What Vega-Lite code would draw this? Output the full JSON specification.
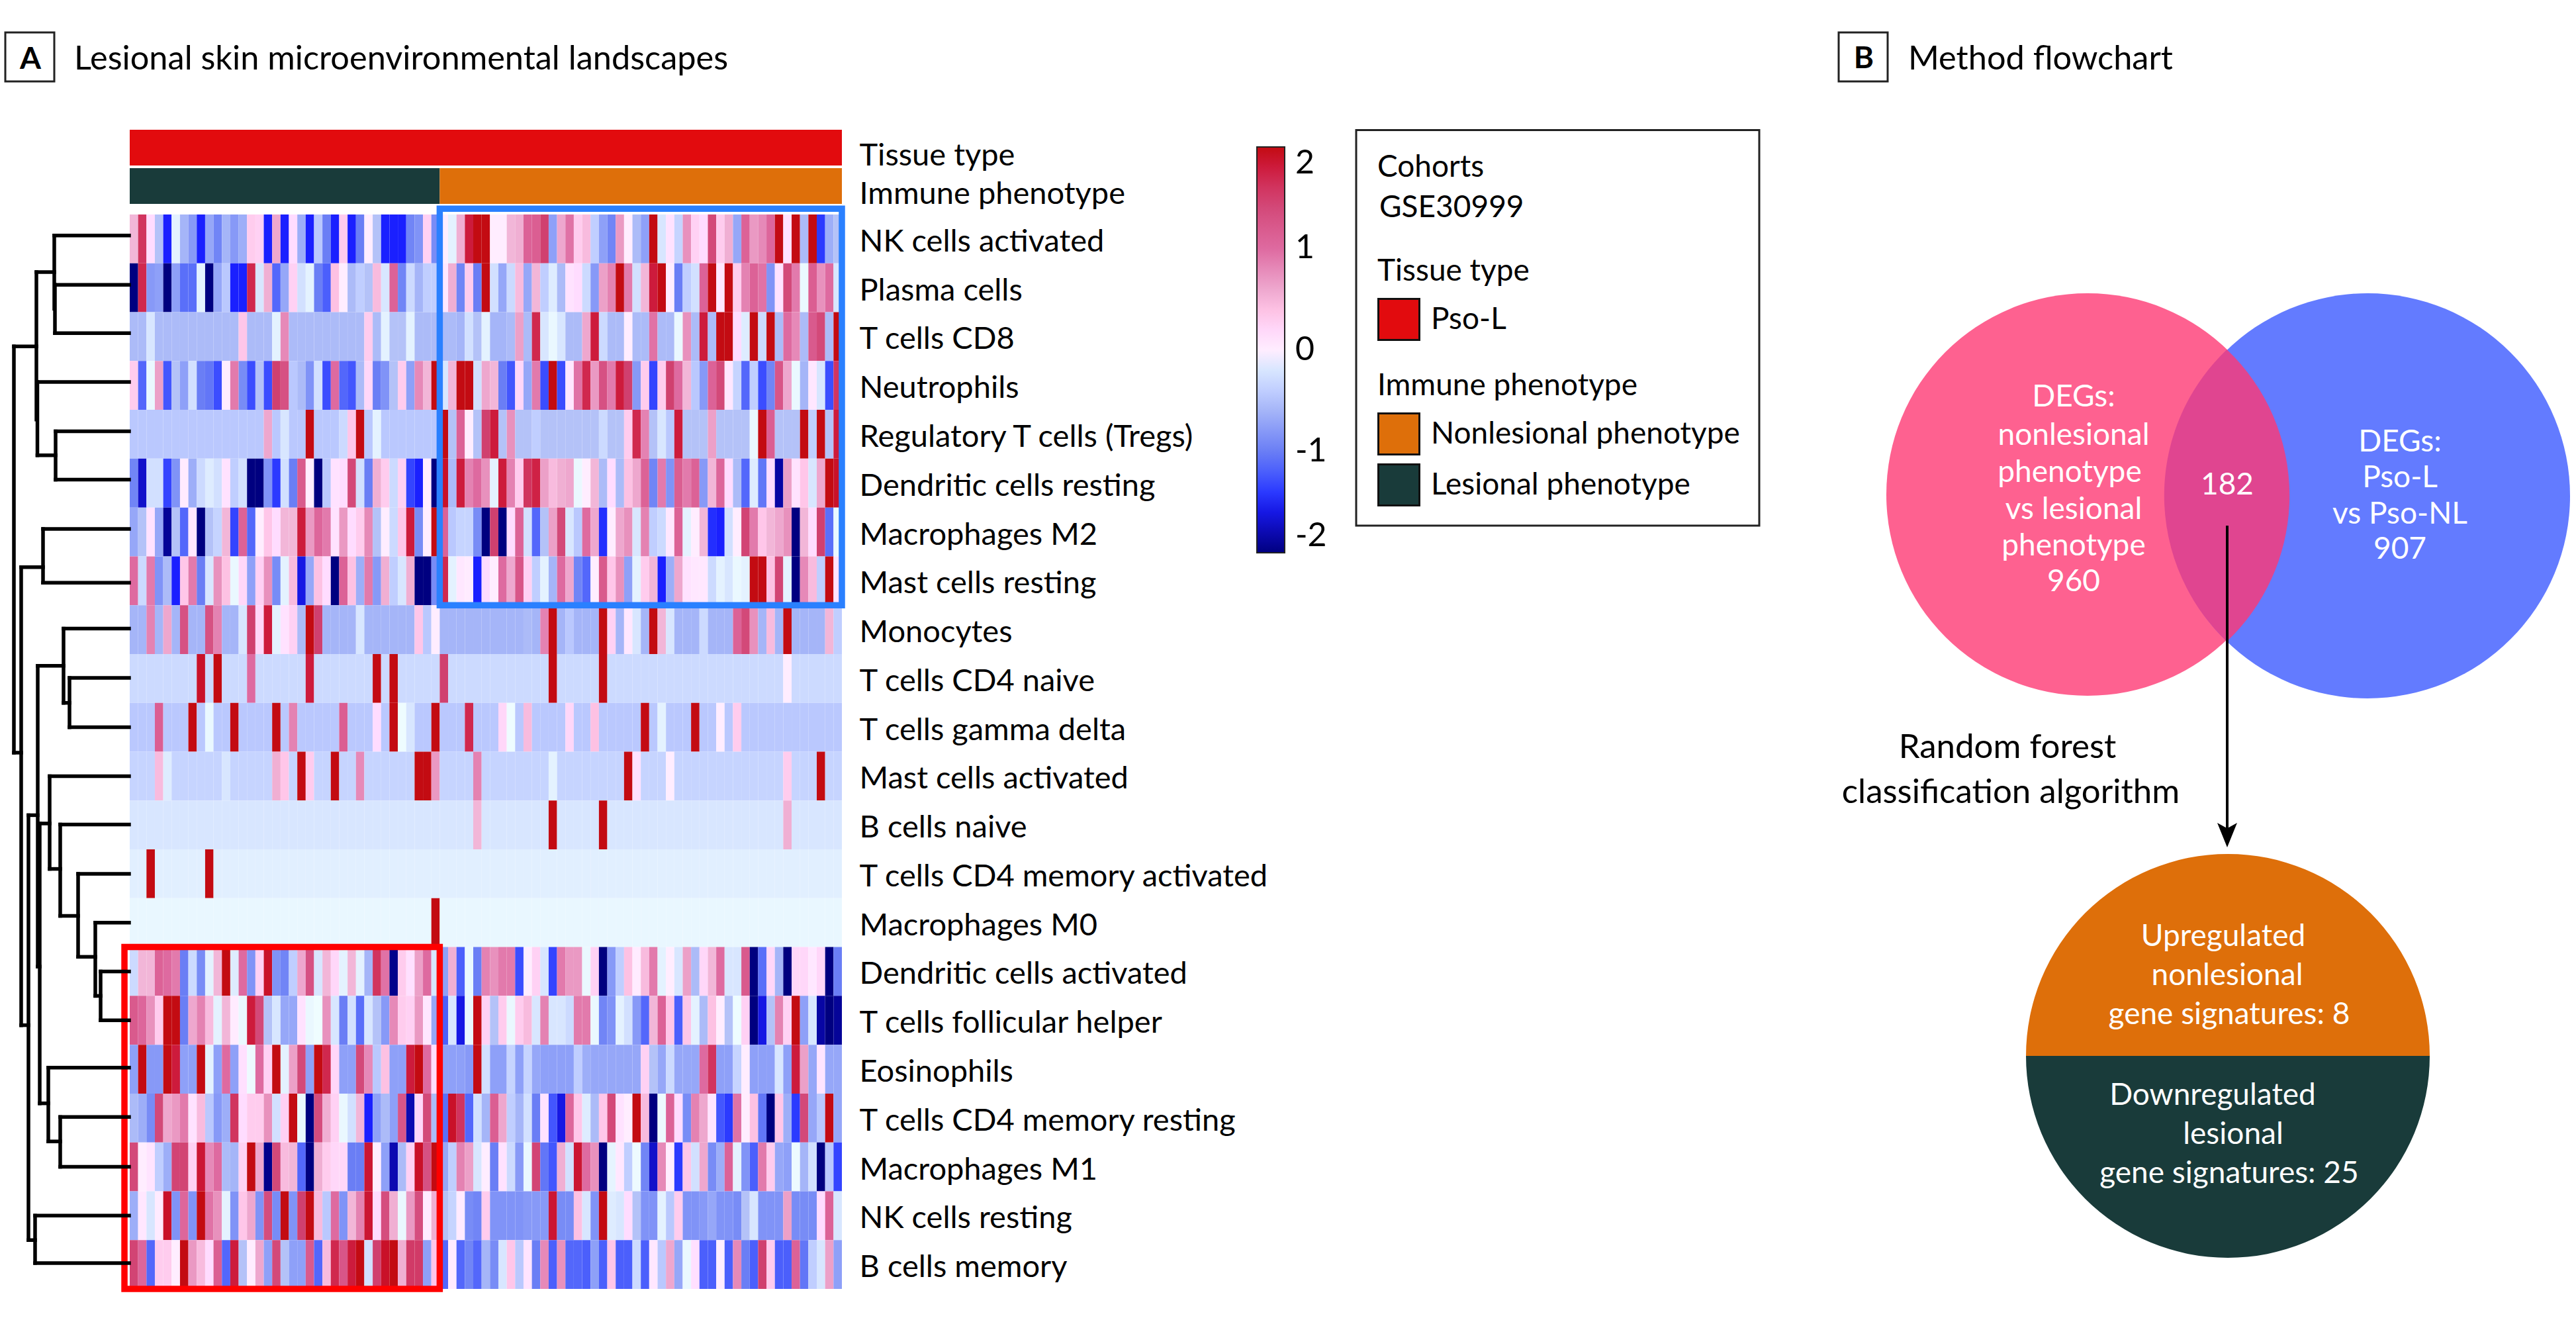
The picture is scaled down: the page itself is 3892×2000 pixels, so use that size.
{"$schema":"https://vega.github.io/schema/vega-lite/v6.json","width":3892,"height":2000,"padding":0,"autosize":{"type":"fit","contains":"padding"},"background":"white","config":{"view":{"stroke":null},"font":"Lato"},
"datasets":{"rows":[{"r":1,"cell":"NK cells activated"},{"r":2,"cell":"Plasma cells"},{"r":3,"cell":"T cells CD8"},{"r":4,"cell":"Neutrophils"},{"r":5,"cell":"Regulatory T cells (Tregs)"},{"r":6,"cell":"Dendritic cells resting"},{"r":7,"cell":"Macrophages M2"},{"r":8,"cell":"Mast cells resting"},{"r":9,"cell":"Monocytes"},{"r":10,"cell":"T cells CD4 naive"},{"r":11,"cell":"T cells gamma delta"},{"r":12,"cell":"Mast cells activated"},{"r":13,"cell":"B cells naive"},{"r":14,"cell":"T cells CD4 memory activated"},{"r":15,"cell":"Macrophages M0"},{"r":16,"cell":"Dendritic cells activated"},{"r":17,"cell":"T cells follicular helper"},{"r":18,"cell":"Eosinophils"},{"r":19,"cell":"T cells CD4 memory resting"},{"r":20,"cell":"Macrophages M1"},{"r":21,"cell":"NK cells resting"},{"r":22,"cell":"B cells memory"}],
"cells":[
{"c":1,"r":1,"v":0.5},{"c":2,"r":1,"v":1.6},{"c":3,"r":1,"v":0.15},{"c":4,"r":1,"v":-0.5},{"c":5,"r":1,"v":-1.5},{"c":6,"r":1,"v":-0.1},{"c":7,"r":1,"v":-0.6},{"c":8,"r":1,"v":-0.8},{"c":9,"r":1,"v":-1.5},{"c":10,"r":1,"v":-0.7},{"c":11,"r":1,"v":-0.95},{"c":12,"r":1,"v":-0.6},{"c":13,"r":1,"v":-0.8},{"c":14,"r":1,"v":-0.65},{"c":15,"r":1,"v":0.3},{"c":16,"r":1,"v":0.25},{"c":17,"r":1,"v":-1.5},{"c":18,"r":1,"v":0.6},{"c":19,"r":1,"v":-1.5},{"c":20,"r":1,"v":0.15},{"c":21,"r":1,"v":-0.65},{"c":22,"r":1,"v":-1.5},{"c":23,"r":1,"v":-0.45},{"c":24,"r":1,"v":-1},{"c":25,"r":1,"v":-1.5},{"c":26,"r":1,"v":0.3},{"c":27,"r":1,"v":-1.5},{"c":28,"r":1,"v":-1},{"c":29,"r":1,"v":0},{"c":30,"r":1,"v":-0.5},{"c":31,"r":1,"v":-1.5},{"c":32,"r":1,"v":-1.5},{"c":33,"r":1,"v":-1.5},{"c":34,"r":1,"v":-0.95},{"c":35,"r":1,"v":-0.85},{"c":36,"r":1,"v":0.25},{"c":37,"r":1,"v":-0.9},{"c":38,"r":1,"v":0},{"c":39,"r":1,"v":-0.1},{"c":40,"r":1,"v":0.55},{"c":41,"r":1,"v":1.8},{"c":42,"r":1,"v":2},{"c":43,"r":1,"v":2},{"c":44,"r":1,"v":0},{"c":45,"r":1,"v":0},{"c":46,"r":1,"v":0.5},{"c":47,"r":1,"v":0.55},{"c":48,"r":1,"v":1.1},{"c":49,"r":1,"v":1.15},{"c":50,"r":1,"v":1.5},{"c":51,"r":1,"v":-0.75},{"c":52,"r":1,"v":0.6},{"c":53,"r":1,"v":0.95},{"c":54,"r":1,"v":0.3},{"c":55,"r":1,"v":0.45},{"c":56,"r":1,"v":-0.4},{"c":57,"r":1,"v":-0.75},{"c":58,"r":1,"v":-0.95},{"c":59,"r":1,"v":0.7},{"c":60,"r":1,"v":0},{"c":61,"r":1,"v":-0.55},{"c":62,"r":1,"v":-0.75},{"c":63,"r":1,"v":2},{"c":64,"r":1,"v":-0.2},{"c":65,"r":1,"v":0.1},{"c":66,"r":1,"v":-0.35},{"c":67,"r":1,"v":0.75},{"c":68,"r":1,"v":0.25},{"c":69,"r":1,"v":0.15},{"c":70,"r":1,"v":1.4},{"c":71,"r":1,"v":0.3},{"c":72,"r":1,"v":0.55},{"c":73,"r":1,"v":-0.7},{"c":74,"r":1,"v":1.1},{"c":75,"r":1,"v":0.7},{"c":76,"r":1,"v":0.8},{"c":77,"r":1,"v":1.05},{"c":78,"r":1,"v":2},{"c":79,"r":1,"v":0.1},{"c":80,"r":1,"v":2},{"c":81,"r":1,"v":-0.55},{"c":82,"r":1,"v":2},{"c":83,"r":1,"v":-1.4},{"c":84,"r":1,"v":-0.65},{"c":85,"r":1,"v":-0.5},
{"c":1,"r":2,"v":-2},{"c":2,"r":2,"v":1.7},{"c":3,"r":2,"v":-0.8},{"c":4,"r":2,"v":-0.75},{"c":5,"r":2,"v":-2},{"c":6,"r":2,"v":-0.75},{"c":7,"r":2,"v":-1.1},{"c":8,"r":2,"v":-1.1},{"c":9,"r":2,"v":-0.1},{"c":10,"r":2,"v":-2},{"c":11,"r":2,"v":-0.7},{"c":12,"r":2,"v":-0.45},{"c":13,"r":2,"v":-1.5},{"c":14,"r":2,"v":-1.5},{"c":15,"r":2,"v":1.7},{"c":16,"r":2,"v":-0.2},{"c":17,"r":2,"v":0.55},{"c":18,"r":2,"v":-1.15},{"c":19,"r":2,"v":-0.7},{"c":20,"r":2,"v":0.25},{"c":21,"r":2,"v":-0.25},{"c":22,"r":2,"v":-0.1},{"c":23,"r":2,"v":-1},{"c":24,"r":2,"v":-1.2},{"c":25,"r":2,"v":0.4},{"c":26,"r":2,"v":0},{"c":27,"r":2,"v":-0.55},{"c":28,"r":2,"v":-0.4},{"c":29,"r":2,"v":-0.5},{"c":30,"r":2,"v":0.45},{"c":31,"r":2,"v":-0.2},{"c":32,"r":2,"v":1.1},{"c":33,"r":2,"v":-0.95},{"c":34,"r":2,"v":-0.3},{"c":35,"r":2,"v":-0.6},{"c":36,"r":2,"v":-0.4},{"c":37,"r":2,"v":-0.4},{"c":38,"r":2,"v":0.05},{"c":39,"r":2,"v":0.55},{"c":40,"r":2,"v":-0.95},{"c":41,"r":2,"v":0.3},{"c":42,"r":2,"v":-1},{"c":43,"r":2,"v":2},{"c":44,"r":2,"v":-0.25},{"c":45,"r":2,"v":-0.7},{"c":46,"r":2,"v":-0.3},{"c":47,"r":2,"v":0.45},{"c":48,"r":2,"v":-0.7},{"c":49,"r":2,"v":0.5},{"c":50,"r":2,"v":-0.4},{"c":51,"r":2,"v":-0.15},{"c":52,"r":2,"v":-0.55},{"c":53,"r":2,"v":0.1},{"c":54,"r":2,"v":0.15},{"c":55,"r":2,"v":-0.3},{"c":56,"r":2,"v":-0.8},{"c":57,"r":2,"v":0.65},{"c":58,"r":2,"v":0.85},{"c":59,"r":2,"v":2},{"c":60,"r":2,"v":0.9},{"c":61,"r":2,"v":-0.25},{"c":62,"r":2,"v":0.5},{"c":63,"r":2,"v":1.8},{"c":64,"r":2,"v":2},{"c":65,"r":2,"v":0},{"c":66,"r":2,"v":-1},{"c":67,"r":2,"v":-0.4},{"c":68,"r":2,"v":-0.25},{"c":69,"r":2,"v":1.1},{"c":70,"r":2,"v":2},{"c":71,"r":2,"v":0.05},{"c":72,"r":2,"v":2},{"c":73,"r":2,"v":0.3},{"c":74,"r":2,"v":0.85},{"c":75,"r":2,"v":1.1},{"c":76,"r":2,"v":0.95},{"c":77,"r":2,"v":-0.85},{"c":78,"r":2,"v":0.1},{"c":79,"r":2,"v":1.4},{"c":80,"r":2,"v":0.9},{"c":81,"r":2,"v":-0.05},{"c":82,"r":2,"v":1.15},{"c":83,"r":2,"v":0.75},{"c":84,"r":2,"v":1},{"c":85,"r":2,"v":-0.2},
{"c":1,"r":3,"v":-0.55},{"c":2,"r":3,"v":-0.55},{"c":3,"r":3,"v":-0.2},{"c":4,"r":3,"v":-0.55},{"c":5,"r":3,"v":-0.55},{"c":6,"r":3,"v":-0.55},{"c":7,"r":3,"v":-0.55},{"c":8,"r":3,"v":-0.55},{"c":9,"r":3,"v":-0.55},{"c":10,"r":3,"v":-0.55},{"c":11,"r":3,"v":-0.55},{"c":12,"r":3,"v":-0.55},{"c":13,"r":3,"v":-0.55},{"c":14,"r":3,"v":0.35},{"c":15,"r":3,"v":-0.55},{"c":16,"r":3,"v":-0.55},{"c":17,"r":3,"v":-0.55},{"c":18,"r":3,"v":-0.1},{"c":19,"r":3,"v":0.8},{"c":20,"r":3,"v":-0.55},{"c":21,"r":3,"v":-0.55},{"c":22,"r":3,"v":-0.55},{"c":23,"r":3,"v":-0.55},{"c":24,"r":3,"v":-0.55},{"c":25,"r":3,"v":-0.55},{"c":26,"r":3,"v":-0.55},{"c":27,"r":3,"v":-0.55},{"c":28,"r":3,"v":-0.55},{"c":29,"r":3,"v":0.3},{"c":30,"r":3,"v":-0.55},{"c":31,"r":3,"v":-0.1},{"c":32,"r":3,"v":-0.5},{"c":33,"r":3,"v":-0.5},{"c":34,"r":3,"v":-0.1},{"c":35,"r":3,"v":-0.55},{"c":36,"r":3,"v":-0.55},{"c":37,"r":3,"v":-0.55},{"c":38,"r":3,"v":-0.55},{"c":39,"r":3,"v":-0.55},{"c":40,"r":3,"v":-0.6},{"c":41,"r":3,"v":-0.25},{"c":42,"r":3,"v":-0.5},{"c":43,"r":3,"v":-0.1},{"c":44,"r":3,"v":-0.6},{"c":45,"r":3,"v":-0.6},{"c":46,"r":3,"v":-0.55},{"c":47,"r":3,"v":0.65},{"c":48,"r":3,"v":-0.55},{"c":49,"r":3,"v":1.7},{"c":50,"r":3,"v":-0.2},{"c":51,"r":3,"v":-0.05},{"c":52,"r":3,"v":-0.2},{"c":53,"r":3,"v":-0.55},{"c":54,"r":3,"v":-0.55},{"c":55,"r":3,"v":0.6},{"c":56,"r":3,"v":1.8},{"c":57,"r":3,"v":-0.3},{"c":58,"r":3,"v":-0.55},{"c":59,"r":3,"v":-0.55},{"c":60,"r":3,"v":0},{"c":61,"r":3,"v":-0.55},{"c":62,"r":3,"v":-0.55},{"c":63,"r":3,"v":0.95},{"c":64,"r":3,"v":-0.55},{"c":65,"r":3,"v":-0.55},{"c":66,"r":3,"v":-0.05},{"c":67,"r":3,"v":0.75},{"c":68,"r":3,"v":-0.55},{"c":69,"r":3,"v":1.8},{"c":70,"r":3,"v":-0.55},{"c":71,"r":3,"v":2},{"c":72,"r":3,"v":2},{"c":73,"r":3,"v":0.15},{"c":74,"r":3,"v":-0.15},{"c":75,"r":3,"v":2},{"c":76,"r":3,"v":-0.3},{"c":77,"r":3,"v":2},{"c":78,"r":3,"v":-0.55},{"c":79,"r":3,"v":1},{"c":80,"r":3,"v":0.8},{"c":81,"r":3,"v":-0.55},{"c":82,"r":3,"v":1.2},{"c":83,"r":3,"v":1.4},{"c":84,"r":3,"v":-0.55},{"c":85,"r":3,"v":2},
{"c":1,"r":4,"v":0.3},{"c":2,"r":4,"v":-1.15},{"c":3,"r":4,"v":-0.05},{"c":4,"r":4,"v":0.65},{"c":5,"r":4,"v":-1.25},{"c":6,"r":4,"v":-0.5},{"c":7,"r":4,"v":-0.75},{"c":8,"r":4,"v":-0.25},{"c":9,"r":4,"v":-1},{"c":10,"r":4,"v":-1.05},{"c":11,"r":4,"v":-1.3},{"c":12,"r":4,"v":0},{"c":13,"r":4,"v":0.9},{"c":14,"r":4,"v":-0.9},{"c":15,"r":4,"v":-1.3},{"c":16,"r":4,"v":-0.5},{"c":17,"r":4,"v":-1.3},{"c":18,"r":4,"v":1.5},{"c":19,"r":4,"v":1.3},{"c":20,"r":4,"v":-0.45},{"c":21,"r":4,"v":-0.55},{"c":22,"r":4,"v":-0.85},{"c":23,"r":4,"v":-0.25},{"c":24,"r":4,"v":-1.3},{"c":25,"r":4,"v":1},{"c":26,"r":4,"v":-1.15},{"c":27,"r":4,"v":-1.25},{"c":28,"r":4,"v":-0.55},{"c":29,"r":4,"v":0.2},{"c":30,"r":4,"v":-1},{"c":31,"r":4,"v":-0.85},{"c":32,"r":4,"v":-0.5},{"c":33,"r":4,"v":0.3},{"c":34,"r":4,"v":-0.75},{"c":35,"r":4,"v":0.8},{"c":36,"r":4,"v":0.5},{"c":37,"r":4,"v":2},{"c":38,"r":4,"v":-0.2},{"c":39,"r":4,"v":0.5},{"c":40,"r":4,"v":2},{"c":41,"r":4,"v":2},{"c":42,"r":4,"v":-0.25},{"c":43,"r":4,"v":0.6},{"c":44,"r":4,"v":0.5},{"c":45,"r":4,"v":-1},{"c":46,"r":4,"v":-1.25},{"c":47,"r":4,"v":0.2},{"c":48,"r":4,"v":-0.7},{"c":49,"r":4,"v":0.9},{"c":50,"r":4,"v":-1.3},{"c":51,"r":4,"v":2},{"c":52,"r":4,"v":-1.3},{"c":53,"r":4,"v":0.05},{"c":54,"r":4,"v":0.95},{"c":55,"r":4,"v":1.7},{"c":56,"r":4,"v":0.7},{"c":57,"r":4,"v":1.3},{"c":58,"r":4,"v":0.9},{"c":59,"r":4,"v":1.8},{"c":60,"r":4,"v":1.5},{"c":61,"r":4,"v":-0.8},{"c":62,"r":4,"v":0.3},{"c":63,"r":4,"v":-1.35},{"c":64,"r":4,"v":0.3},{"c":65,"r":4,"v":1.5},{"c":66,"r":4,"v":1},{"c":67,"r":4,"v":0.5},{"c":68,"r":4,"v":-0.45},{"c":69,"r":4,"v":-0.8},{"c":70,"r":4,"v":1.1},{"c":71,"r":4,"v":1.4},{"c":72,"r":4,"v":0.05},{"c":73,"r":4,"v":-0.35},{"c":74,"r":4,"v":-1.15},{"c":75,"r":4,"v":-0.4},{"c":76,"r":4,"v":-1.3},{"c":77,"r":4,"v":-0.95},{"c":78,"r":4,"v":1.25},{"c":79,"r":4,"v":0.6},{"c":80,"r":4,"v":-0.05},{"c":81,"r":4,"v":-0.6},{"c":82,"r":4,"v":0.05},{"c":83,"r":4,"v":-0.2},{"c":84,"r":4,"v":-1.3},{"c":85,"r":4,"v":1.6},
{"c":1,"r":5,"v":-0.45},{"c":2,"r":5,"v":-0.45},{"c":3,"r":5,"v":-0.45},{"c":4,"r":5,"v":-0.45},{"c":5,"r":5,"v":-0.45},{"c":6,"r":5,"v":-0.45},{"c":7,"r":5,"v":-0.45},{"c":8,"r":5,"v":-0.45},{"c":9,"r":5,"v":-0.45},{"c":10,"r":5,"v":-0.45},{"c":11,"r":5,"v":-0.45},{"c":12,"r":5,"v":-0.45},{"c":13,"r":5,"v":-0.45},{"c":14,"r":5,"v":-0.45},{"c":15,"r":5,"v":-0.45},{"c":16,"r":5,"v":-0.45},{"c":17,"r":5,"v":0.6},{"c":18,"r":5,"v":-0.45},{"c":19,"r":5,"v":-0.2},{"c":20,"r":5,"v":-0.45},{"c":21,"r":5,"v":-0.45},{"c":22,"r":5,"v":2},{"c":23,"r":5,"v":-0.45},{"c":24,"r":5,"v":-0.45},{"c":25,"r":5,"v":-0.45},{"c":26,"r":5,"v":-0.3},{"c":27,"r":5,"v":0.35},{"c":28,"r":5,"v":2},{"c":29,"r":5,"v":-0.45},{"c":30,"r":5,"v":-0.1},{"c":31,"r":5,"v":-0.45},{"c":32,"r":5,"v":-0.45},{"c":33,"r":5,"v":-0.45},{"c":34,"r":5,"v":-0.45},{"c":35,"r":5,"v":-0.45},{"c":36,"r":5,"v":-0.45},{"c":37,"r":5,"v":-0.45},{"c":38,"r":5,"v":2},{"c":39,"r":5,"v":-0.5},{"c":40,"r":5,"v":1.1},{"c":41,"r":5,"v":0},{"c":42,"r":5,"v":-0.5},{"c":43,"r":5,"v":1.5},{"c":44,"r":5,"v":1.8},{"c":45,"r":5,"v":-0.5},{"c":46,"r":5,"v":0.75},{"c":47,"r":5,"v":-0.5},{"c":48,"r":5,"v":-0.5},{"c":49,"r":5,"v":-0.4},{"c":50,"r":5,"v":-0.5},{"c":51,"r":5,"v":-0.5},{"c":52,"r":5,"v":-0.5},{"c":53,"r":5,"v":-0.5},{"c":54,"r":5,"v":-0.5},{"c":55,"r":5,"v":-0.5},{"c":56,"r":5,"v":-0.5},{"c":57,"r":5,"v":-0.3},{"c":58,"r":5,"v":-0.5},{"c":59,"r":5,"v":-0.5},{"c":60,"r":5,"v":0.3},{"c":61,"r":5,"v":1.7},{"c":62,"r":5,"v":0.85},{"c":63,"r":5,"v":-0.5},{"c":64,"r":5,"v":-0.2},{"c":65,"r":5,"v":-0.45},{"c":66,"r":5,"v":1.8},{"c":67,"r":5,"v":-0.5},{"c":68,"r":5,"v":-0.5},{"c":69,"r":5,"v":-0.5},{"c":70,"r":5,"v":0.65},{"c":71,"r":5,"v":-0.5},{"c":72,"r":5,"v":-0.5},{"c":73,"r":5,"v":-0.5},{"c":74,"r":5,"v":-0.5},{"c":75,"r":5,"v":-0.05},{"c":76,"r":5,"v":2},{"c":77,"r":5,"v":1.15},{"c":78,"r":5,"v":-0.5},{"c":79,"r":5,"v":-0.5},{"c":80,"r":5,"v":-0.5},{"c":81,"r":5,"v":2},{"c":82,"r":5,"v":-0.4},{"c":83,"r":5,"v":2},{"c":84,"r":5,"v":-0.5},{"c":85,"r":5,"v":1.8},
{"c":1,"r":6,"v":-0.95},{"c":2,"r":6,"v":-1.7},{"c":3,"r":6,"v":-0.25},{"c":4,"r":6,"v":-0.25},{"c":5,"r":6,"v":-1.35},{"c":6,"r":6,"v":-0.85},{"c":7,"r":6,"v":0.02},{"c":8,"r":6,"v":-0.65},{"c":9,"r":6,"v":-0.3},{"c":10,"r":6,"v":-0.15},{"c":11,"r":6,"v":-0.25},{"c":12,"r":6,"v":0.1},{"c":13,"r":6,"v":-0.4},{"c":14,"r":6,"v":-0.25},{"c":15,"r":6,"v":-2},{"c":16,"r":6,"v":-2},{"c":17,"r":6,"v":-0.85},{"c":18,"r":6,"v":-1.4},{"c":19,"r":6,"v":-0.25},{"c":20,"r":6,"v":-1},{"c":21,"r":6,"v":1.2},{"c":22,"r":6,"v":0},{"c":23,"r":6,"v":-2},{"c":24,"r":6,"v":-0.45},{"c":25,"r":6,"v":0.1},{"c":26,"r":6,"v":0.15},{"c":27,"r":6,"v":1.4},{"c":28,"r":6,"v":-0.25},{"c":29,"r":6,"v":-1},{"c":30,"r":6,"v":0.55},{"c":31,"r":6,"v":0.3},{"c":32,"r":6,"v":-0.3},{"c":33,"r":6,"v":0.25},{"c":34,"r":6,"v":-1.35},{"c":35,"r":6,"v":-1.5},{"c":36,"r":6,"v":0},{"c":37,"r":6,"v":-2},{"c":38,"r":6,"v":1.9},{"c":39,"r":6,"v":-0.55},{"c":40,"r":6,"v":1.8},{"c":41,"r":6,"v":0.85},{"c":42,"r":6,"v":1},{"c":43,"r":6,"v":0.75},{"c":44,"r":6,"v":-0.1},{"c":45,"r":6,"v":1.8},{"c":46,"r":6,"v":0.85},{"c":47,"r":6,"v":0.3},{"c":48,"r":6,"v":1.6},{"c":49,"r":6,"v":1.75},{"c":50,"r":6,"v":0.65},{"c":51,"r":6,"v":0.45},{"c":52,"r":6,"v":0.55},{"c":53,"r":6,"v":0.6},{"c":54,"r":6,"v":-0.05},{"c":55,"r":6,"v":0},{"c":56,"r":6,"v":0.5},{"c":57,"r":6,"v":-0.55},{"c":58,"r":6,"v":0.15},{"c":59,"r":6,"v":-0.55},{"c":60,"r":6,"v":0.4},{"c":61,"r":6,"v":0.6},{"c":62,"r":6,"v":1.1},{"c":63,"r":6,"v":-0.95},{"c":64,"r":6,"v":0.9},{"c":65,"r":6,"v":-0.85},{"c":66,"r":6,"v":1.15},{"c":67,"r":6,"v":0.9},{"c":68,"r":6,"v":1.1},{"c":69,"r":6,"v":-0.8},{"c":70,"r":6,"v":0.5},{"c":71,"r":6,"v":1.05},{"c":72,"r":6,"v":0.15},{"c":73,"r":6,"v":-0.55},{"c":74,"r":6,"v":-1.15},{"c":75,"r":6,"v":-0.15},{"c":76,"r":6,"v":-1.05},{"c":77,"r":6,"v":0.15},{"c":78,"r":6,"v":-1.85},{"c":79,"r":6,"v":0.65},{"c":80,"r":6,"v":0.1},{"c":81,"r":6,"v":0.35},{"c":82,"r":6,"v":-0.2},{"c":83,"r":6,"v":0.6},{"c":84,"r":6,"v":2},{"c":85,"r":6,"v":1.9},
{"c":1,"r":7,"v":-0.7},{"c":2,"r":7,"v":-0.5},{"c":3,"r":7,"v":0.1},{"c":4,"r":7,"v":-0.7},{"c":5,"r":7,"v":-1.9},{"c":6,"r":7,"v":-0.5},{"c":7,"r":7,"v":-1.15},{"c":8,"r":7,"v":0.05},{"c":9,"r":7,"v":-2},{"c":10,"r":7,"v":-0.5},{"c":11,"r":7,"v":-0.35},{"c":12,"r":7,"v":0.5},{"c":13,"r":7,"v":-1.35},{"c":14,"r":7,"v":1.1},{"c":15,"r":7,"v":-1.15},{"c":16,"r":7,"v":0},{"c":17,"r":7,"v":0.35},{"c":18,"r":7,"v":0.15},{"c":19,"r":7,"v":0.5},{"c":20,"r":7,"v":0.5},{"c":21,"r":7,"v":1.8},{"c":22,"r":7,"v":0.7},{"c":23,"r":7,"v":1.05},{"c":24,"r":7,"v":0.9},{"c":25,"r":7,"v":0.1},{"c":26,"r":7,"v":0.7},{"c":27,"r":7,"v":0.15},{"c":28,"r":7,"v":0.3},{"c":29,"r":7,"v":0.8},{"c":30,"r":7,"v":-0.5},{"c":31,"r":7,"v":0},{"c":32,"r":7,"v":-0.3},{"c":33,"r":7,"v":0.35},{"c":34,"r":7,"v":1.8},{"c":35,"r":7,"v":-0.9},{"c":36,"r":7,"v":0},{"c":37,"r":7,"v":2},{"c":38,"r":7,"v":1.1},{"c":39,"r":7,"v":-0.45},{"c":40,"r":7,"v":-0.35},{"c":41,"r":7,"v":-0.35},{"c":42,"r":7,"v":-0.9},{"c":43,"r":7,"v":-2},{"c":44,"r":7,"v":1.5},{"c":45,"r":7,"v":-2},{"c":46,"r":7,"v":0.15},{"c":47,"r":7,"v":1.1},{"c":48,"r":7,"v":-0.25},{"c":49,"r":7,"v":-1.15},{"c":50,"r":7,"v":-0.5},{"c":51,"r":7,"v":0.65},{"c":52,"r":7,"v":1.4},{"c":53,"r":7,"v":-0.2},{"c":54,"r":7,"v":-0.45},{"c":55,"r":7,"v":1},{"c":56,"r":7,"v":0.6},{"c":57,"r":7,"v":-1.45},{"c":58,"r":7,"v":0},{"c":59,"r":7,"v":0.6},{"c":60,"r":7,"v":0.75},{"c":61,"r":7,"v":-0.2},{"c":62,"r":7,"v":0.85},{"c":63,"r":7,"v":-0.4},{"c":64,"r":7,"v":-0.3},{"c":65,"r":7,"v":0.05},{"c":66,"r":7,"v":1.1},{"c":67,"r":7,"v":-0.1},{"c":68,"r":7,"v":0},{"c":69,"r":7,"v":0.5},{"c":70,"r":7,"v":-1.45},{"c":71,"r":7,"v":-1.5},{"c":72,"r":7,"v":-0.25},{"c":73,"r":7,"v":0},{"c":74,"r":7,"v":1.45},{"c":75,"r":7,"v":0.9},{"c":76,"r":7,"v":0.35},{"c":77,"r":7,"v":0.5},{"c":78,"r":7,"v":0.6},{"c":79,"r":7,"v":0.75},{"c":80,"r":7,"v":-2},{"c":81,"r":7,"v":0.5},{"c":82,"r":7,"v":0.15},{"c":83,"r":7,"v":1.5},{"c":84,"r":7,"v":-1.1},{"c":85,"r":7,"v":-0.05},
{"c":1,"r":8,"v":1},{"c":2,"r":8,"v":-0.3},{"c":3,"r":8,"v":0.9},{"c":4,"r":8,"v":-0.85},{"c":5,"r":8,"v":-0.55},{"c":6,"r":8,"v":-1.5},{"c":7,"r":8,"v":0.35},{"c":8,"r":8,"v":0.9},{"c":9,"r":8,"v":-1},{"c":10,"r":8,"v":-0.2},{"c":11,"r":8,"v":0.75},{"c":12,"r":8,"v":0.4},{"c":13,"r":8,"v":-0.05},{"c":14,"r":8,"v":0.2},{"c":15,"r":8,"v":-0.75},{"c":16,"r":8,"v":0.25},{"c":17,"r":8,"v":0.75},{"c":18,"r":8,"v":-0.9},{"c":19,"r":8,"v":-0.1},{"c":20,"r":8,"v":0.45},{"c":21,"r":8,"v":-1.6},{"c":22,"r":8,"v":-0.7},{"c":23,"r":8,"v":0.4},{"c":24,"r":8,"v":0.15},{"c":25,"r":8,"v":-2},{"c":26,"r":8,"v":1.1},{"c":27,"r":8,"v":0.4},{"c":28,"r":8,"v":-0.65},{"c":29,"r":8,"v":0.9},{"c":30,"r":8,"v":-0.8},{"c":31,"r":8,"v":0.55},{"c":32,"r":8,"v":-0.4},{"c":33,"r":8,"v":-0.2},{"c":34,"r":8,"v":0.55},{"c":35,"r":8,"v":-2},{"c":36,"r":8,"v":-2},{"c":37,"r":8,"v":-0.9},{"c":38,"r":8,"v":1.7},{"c":39,"r":8,"v":-0.1},{"c":40,"r":8,"v":0.05},{"c":41,"r":8,"v":0.02},{"c":42,"r":8,"v":-1.5},{"c":43,"r":8,"v":0.15},{"c":44,"r":8,"v":0},{"c":45,"r":8,"v":1},{"c":46,"r":8,"v":0.6},{"c":47,"r":8,"v":1.25},{"c":48,"r":8,"v":0.25},{"c":49,"r":8,"v":-0.4},{"c":50,"r":8,"v":-0.1},{"c":51,"r":8,"v":-0.6},{"c":52,"r":8,"v":1},{"c":53,"r":8,"v":0.6},{"c":54,"r":8,"v":-0.95},{"c":55,"r":8,"v":-1.15},{"c":56,"r":8,"v":0},{"c":57,"r":8,"v":1.2},{"c":58,"r":8,"v":0.35},{"c":59,"r":8,"v":0.75},{"c":60,"r":8,"v":-0.75},{"c":61,"r":8,"v":-0.1},{"c":62,"r":8,"v":0.3},{"c":63,"r":8,"v":0.5},{"c":64,"r":8,"v":-1.5},{"c":65,"r":8,"v":-0.65},{"c":66,"r":8,"v":0.6},{"c":67,"r":8,"v":0.1},{"c":68,"r":8,"v":0.05},{"c":69,"r":8,"v":0.05},{"c":70,"r":8,"v":-0.3},{"c":71,"r":8,"v":-0.1},{"c":72,"r":8,"v":-0.2},{"c":73,"r":8,"v":-0.05},{"c":74,"r":8,"v":-0.1},{"c":75,"r":8,"v":2},{"c":76,"r":8,"v":2},{"c":77,"r":8,"v":0.4},{"c":78,"r":8,"v":1.45},{"c":79,"r":8,"v":-0.1},{"c":80,"r":8,"v":-2},{"c":81,"r":8,"v":0.8},{"c":82,"r":8,"v":0.45},{"c":83,"r":8,"v":-0.4},{"c":84,"r":8,"v":2},{"c":85,"r":8,"v":0.1},
{"c":1,"r":9,"v":-0.6},{"c":2,"r":9,"v":-0.6},{"c":3,"r":9,"v":0.85},{"c":4,"r":9,"v":-0.6},{"c":5,"r":9,"v":0.6},{"c":6,"r":9,"v":-0.6},{"c":7,"r":9,"v":1.3},{"c":8,"r":9,"v":-0.6},{"c":9,"r":9,"v":-0.6},{"c":10,"r":9,"v":1.3},{"c":11,"r":9,"v":0.85},{"c":12,"r":9,"v":-0.6},{"c":13,"r":9,"v":-0.6},{"c":14,"r":9,"v":-0.2},{"c":15,"r":9,"v":1.5},{"c":16,"r":9,"v":0.2},{"c":17,"r":9,"v":1.8},{"c":18,"r":9,"v":-0.1},{"c":19,"r":9,"v":0.1},{"c":20,"r":9,"v":0.25},{"c":21,"r":9,"v":-0.55},{"c":22,"r":9,"v":2},{"c":23,"r":9,"v":1.5},{"c":24,"r":9,"v":-0.6},{"c":25,"r":9,"v":-0.6},{"c":26,"r":9,"v":-0.6},{"c":27,"r":9,"v":-0.6},{"c":28,"r":9,"v":-0.2},{"c":29,"r":9,"v":-0.6},{"c":30,"r":9,"v":-0.6},{"c":31,"r":9,"v":-0.6},{"c":32,"r":9,"v":-0.6},{"c":33,"r":9,"v":-0.6},{"c":34,"r":9,"v":-0.6},{"c":35,"r":9,"v":0.35},{"c":36,"r":9,"v":-0.45},{"c":37,"r":9,"v":0},{"c":38,"r":9,"v":-0.6},{"c":39,"r":9,"v":-0.6},{"c":40,"r":9,"v":-0.6},{"c":41,"r":9,"v":-0.6},{"c":42,"r":9,"v":-0.6},{"c":43,"r":9,"v":-0.6},{"c":44,"r":9,"v":-0.6},{"c":45,"r":9,"v":-0.6},{"c":46,"r":9,"v":-0.6},{"c":47,"r":9,"v":-0.6},{"c":48,"r":9,"v":-0.55},{"c":49,"r":9,"v":-0.6},{"c":50,"r":9,"v":0.85},{"c":51,"r":9,"v":2},{"c":52,"r":9,"v":-0.6},{"c":53,"r":9,"v":-0.45},{"c":54,"r":9,"v":-0.6},{"c":55,"r":9,"v":-0.6},{"c":56,"r":9,"v":-0.6},{"c":57,"r":9,"v":2},{"c":58,"r":9,"v":0.25},{"c":59,"r":9,"v":-0.6},{"c":60,"r":9,"v":0.05},{"c":61,"r":9,"v":-0.2},{"c":62,"r":9,"v":-0.6},{"c":63,"r":9,"v":2},{"c":64,"r":9,"v":0.5},{"c":65,"r":9,"v":-0.2},{"c":66,"r":9,"v":-0.6},{"c":67,"r":9,"v":-0.6},{"c":68,"r":9,"v":-0.6},{"c":69,"r":9,"v":-0.3},{"c":70,"r":9,"v":-0.6},{"c":71,"r":9,"v":-0.6},{"c":72,"r":9,"v":-0.6},{"c":73,"r":9,"v":1.1},{"c":74,"r":9,"v":1.4},{"c":75,"r":9,"v":0.75},{"c":76,"r":9,"v":-0.6},{"c":77,"r":9,"v":0.45},{"c":78,"r":9,"v":-0.6},{"c":79,"r":9,"v":2},{"c":80,"r":9,"v":-0.6},{"c":81,"r":9,"v":-0.6},{"c":82,"r":9,"v":-0.6},{"c":83,"r":9,"v":-0.6},{"c":84,"r":9,"v":0.5},{"c":85,"r":9,"v":-0.4},
{"c":1,"r":10,"v":-0.3},{"c":2,"r":10,"v":-0.3},{"c":3,"r":10,"v":-0.3},{"c":4,"r":10,"v":-0.3},{"c":5,"r":10,"v":-0.3},{"c":6,"r":10,"v":-0.3},{"c":7,"r":10,"v":-0.3},{"c":8,"r":10,"v":-0.3},{"c":9,"r":10,"v":1.9},{"c":10,"r":10,"v":-0.3},{"c":11,"r":10,"v":2},{"c":12,"r":10,"v":-0.3},{"c":13,"r":10,"v":-0.3},{"c":14,"r":10,"v":-0.3},{"c":15,"r":10,"v":1},{"c":16,"r":10,"v":-0.3},{"c":17,"r":10,"v":-0.3},{"c":18,"r":10,"v":-0.3},{"c":19,"r":10,"v":-0.3},{"c":20,"r":10,"v":-0.3},{"c":21,"r":10,"v":-0.3},{"c":22,"r":10,"v":1.8},{"c":23,"r":10,"v":-0.3},{"c":24,"r":10,"v":-0.3},{"c":25,"r":10,"v":-0.3},{"c":26,"r":10,"v":-0.3},{"c":27,"r":10,"v":-0.3},{"c":28,"r":10,"v":-0.3},{"c":29,"r":10,"v":-0.3},{"c":30,"r":10,"v":2},{"c":31,"r":10,"v":-0.3},{"c":32,"r":10,"v":2},{"c":33,"r":10,"v":-0.3},{"c":34,"r":10,"v":-0.3},{"c":35,"r":10,"v":-0.3},{"c":36,"r":10,"v":-0.3},{"c":37,"r":10,"v":-0.3},{"c":38,"r":10,"v":1.5},{"c":39,"r":10,"v":-0.3},{"c":40,"r":10,"v":-0.3},{"c":41,"r":10,"v":-0.3},{"c":42,"r":10,"v":-0.3},{"c":43,"r":10,"v":-0.3},{"c":44,"r":10,"v":-0.3},{"c":45,"r":10,"v":-0.3},{"c":46,"r":10,"v":-0.3},{"c":47,"r":10,"v":-0.3},{"c":48,"r":10,"v":-0.3},{"c":49,"r":10,"v":-0.3},{"c":50,"r":10,"v":-0.3},{"c":51,"r":10,"v":2},{"c":52,"r":10,"v":-0.3},{"c":53,"r":10,"v":-0.3},{"c":54,"r":10,"v":-0.3},{"c":55,"r":10,"v":-0.3},{"c":56,"r":10,"v":-0.3},{"c":57,"r":10,"v":2},{"c":58,"r":10,"v":-0.3},{"c":59,"r":10,"v":-0.3},{"c":60,"r":10,"v":-0.3},{"c":61,"r":10,"v":-0.3},{"c":62,"r":10,"v":-0.3},{"c":63,"r":10,"v":-0.3},{"c":64,"r":10,"v":-0.3},{"c":65,"r":10,"v":-0.3},{"c":66,"r":10,"v":-0.3},{"c":67,"r":10,"v":-0.3},{"c":68,"r":10,"v":-0.3},{"c":69,"r":10,"v":-0.3},{"c":70,"r":10,"v":-0.3},{"c":71,"r":10,"v":-0.3},{"c":72,"r":10,"v":-0.3},{"c":73,"r":10,"v":-0.3},{"c":74,"r":10,"v":-0.3},{"c":75,"r":10,"v":-0.3},{"c":76,"r":10,"v":-0.3},{"c":77,"r":10,"v":-0.3},{"c":78,"r":10,"v":-0.3},{"c":79,"r":10,"v":0},{"c":80,"r":10,"v":-0.3},{"c":81,"r":10,"v":-0.3},{"c":82,"r":10,"v":-0.3},{"c":83,"r":10,"v":-0.3},{"c":84,"r":10,"v":-0.3},{"c":85,"r":10,"v":-0.3},
{"c":1,"r":11,"v":-0.45},{"c":2,"r":11,"v":-0.45},{"c":3,"r":11,"v":-0.45},{"c":4,"r":11,"v":1.15},{"c":5,"r":11,"v":-0.45},{"c":6,"r":11,"v":-0.45},{"c":7,"r":11,"v":-0.45},{"c":8,"r":11,"v":2},{"c":9,"r":11,"v":-0.45},{"c":10,"r":11,"v":-0.05},{"c":11,"r":11,"v":-0.45},{"c":12,"r":11,"v":-0.45},{"c":13,"r":11,"v":2},{"c":14,"r":11,"v":-0.45},{"c":15,"r":11,"v":-0.45},{"c":16,"r":11,"v":-0.45},{"c":17,"r":11,"v":-0.45},{"c":18,"r":11,"v":2},{"c":19,"r":11,"v":-0.45},{"c":20,"r":11,"v":0.85},{"c":21,"r":11,"v":-0.45},{"c":22,"r":11,"v":-0.45},{"c":23,"r":11,"v":-0.45},{"c":24,"r":11,"v":-0.45},{"c":25,"r":11,"v":-0.45},{"c":26,"r":11,"v":1.15},{"c":27,"r":11,"v":-0.45},{"c":28,"r":11,"v":-0.45},{"c":29,"r":11,"v":-0.45},{"c":30,"r":11,"v":0.15},{"c":31,"r":11,"v":-0.45},{"c":32,"r":11,"v":2},{"c":33,"r":11,"v":-0.02},{"c":34,"r":11,"v":-0.2},{"c":35,"r":11,"v":-0.45},{"c":36,"r":11,"v":-0.45},{"c":37,"r":11,"v":2},{"c":38,"r":11,"v":-0.45},{"c":39,"r":11,"v":-0.45},{"c":40,"r":11,"v":-0.45},{"c":41,"r":11,"v":1.7},{"c":42,"r":11,"v":-0.45},{"c":43,"r":11,"v":-0.45},{"c":44,"r":11,"v":-0.45},{"c":45,"r":11,"v":0.2},{"c":46,"r":11,"v":-0.02},{"c":47,"r":11,"v":-0.45},{"c":48,"r":11,"v":0.45},{"c":49,"r":11,"v":-0.45},{"c":50,"r":11,"v":-0.45},{"c":51,"r":11,"v":-0.45},{"c":52,"r":11,"v":-0.45},{"c":53,"r":11,"v":0.2},{"c":54,"r":11,"v":-0.45},{"c":55,"r":11,"v":-0.45},{"c":56,"r":11,"v":0.4},{"c":57,"r":11,"v":-0.45},{"c":58,"r":11,"v":-0.45},{"c":59,"r":11,"v":-0.45},{"c":60,"r":11,"v":-0.45},{"c":61,"r":11,"v":-0.45},{"c":62,"r":11,"v":2},{"c":63,"r":11,"v":-0.45},{"c":64,"r":11,"v":-0.1},{"c":65,"r":11,"v":-0.45},{"c":66,"r":11,"v":-0.45},{"c":67,"r":11,"v":-0.45},{"c":68,"r":11,"v":2},{"c":69,"r":11,"v":-0.45},{"c":70,"r":11,"v":-0.45},{"c":71,"r":11,"v":0},{"c":72,"r":11,"v":-0.45},{"c":73,"r":11,"v":0.3},{"c":74,"r":11,"v":-0.45},{"c":75,"r":11,"v":-0.45},{"c":76,"r":11,"v":-0.45},{"c":77,"r":11,"v":-0.45},{"c":78,"r":11,"v":-0.45},{"c":79,"r":11,"v":-0.45},{"c":80,"r":11,"v":-0.45},{"c":81,"r":11,"v":-0.45},{"c":82,"r":11,"v":-0.45},{"c":83,"r":11,"v":-0.45},{"c":84,"r":11,"v":-0.45},{"c":85,"r":11,"v":-0.45},
{"c":1,"r":12,"v":-0.35},{"c":2,"r":12,"v":-0.35},{"c":3,"r":12,"v":-0.35},{"c":4,"r":12,"v":0.45},{"c":5,"r":12,"v":-0.15},{"c":6,"r":12,"v":-0.35},{"c":7,"r":12,"v":-0.35},{"c":8,"r":12,"v":-0.35},{"c":9,"r":12,"v":-0.35},{"c":10,"r":12,"v":-0.35},{"c":11,"r":12,"v":-0.35},{"c":12,"r":12,"v":-0.2},{"c":13,"r":12,"v":-0.35},{"c":14,"r":12,"v":-0.35},{"c":15,"r":12,"v":-0.35},{"c":16,"r":12,"v":-0.35},{"c":17,"r":12,"v":-0.35},{"c":18,"r":12,"v":0.55},{"c":19,"r":12,"v":0.35},{"c":20,"r":12,"v":-0.35},{"c":21,"r":12,"v":2},{"c":22,"r":12,"v":0.3},{"c":23,"r":12,"v":-0.35},{"c":24,"r":12,"v":-0.35},{"c":25,"r":12,"v":2},{"c":26,"r":12,"v":-0.35},{"c":27,"r":12,"v":-0.35},{"c":28,"r":12,"v":0.8},{"c":29,"r":12,"v":-0.35},{"c":30,"r":12,"v":-0.35},{"c":31,"r":12,"v":-0.35},{"c":32,"r":12,"v":-0.35},{"c":33,"r":12,"v":-0.35},{"c":34,"r":12,"v":-0.35},{"c":35,"r":12,"v":2},{"c":36,"r":12,"v":2},{"c":37,"r":12,"v":0.7},{"c":38,"r":12,"v":-0.35},{"c":39,"r":12,"v":-0.35},{"c":40,"r":12,"v":-0.35},{"c":41,"r":12,"v":-0.35},{"c":42,"r":12,"v":0.85},{"c":43,"r":12,"v":-0.35},{"c":44,"r":12,"v":-0.35},{"c":45,"r":12,"v":-0.35},{"c":46,"r":12,"v":-0.35},{"c":47,"r":12,"v":-0.35},{"c":48,"r":12,"v":-0.35},{"c":49,"r":12,"v":-0.35},{"c":50,"r":12,"v":-0.35},{"c":51,"r":12,"v":-0.1},{"c":52,"r":12,"v":-0.35},{"c":53,"r":12,"v":-0.35},{"c":54,"r":12,"v":-0.35},{"c":55,"r":12,"v":-0.35},{"c":56,"r":12,"v":-0.35},{"c":57,"r":12,"v":-0.35},{"c":58,"r":12,"v":-0.35},{"c":59,"r":12,"v":-0.35},{"c":60,"r":12,"v":2},{"c":61,"r":12,"v":0.1},{"c":62,"r":12,"v":-0.35},{"c":63,"r":12,"v":-0.35},{"c":64,"r":12,"v":-0.35},{"c":65,"r":12,"v":0},{"c":66,"r":12,"v":-0.35},{"c":67,"r":12,"v":-0.35},{"c":68,"r":12,"v":-0.35},{"c":69,"r":12,"v":-0.35},{"c":70,"r":12,"v":-0.35},{"c":71,"r":12,"v":-0.35},{"c":72,"r":12,"v":-0.35},{"c":73,"r":12,"v":-0.35},{"c":74,"r":12,"v":-0.35},{"c":75,"r":12,"v":-0.35},{"c":76,"r":12,"v":-0.35},{"c":77,"r":12,"v":-0.35},{"c":78,"r":12,"v":-0.35},{"c":79,"r":12,"v":0.3},{"c":80,"r":12,"v":-0.35},{"c":81,"r":12,"v":-0.35},{"c":82,"r":12,"v":-0.35},{"c":83,"r":12,"v":2},{"c":84,"r":12,"v":-0.35},{"c":85,"r":12,"v":-0.35},
{"c":1,"r":13,"v":-0.2},{"c":2,"r":13,"v":-0.2},{"c":3,"r":13,"v":-0.2},{"c":4,"r":13,"v":-0.2},{"c":5,"r":13,"v":-0.2},{"c":6,"r":13,"v":-0.2},{"c":7,"r":13,"v":-0.2},{"c":8,"r":13,"v":-0.2},{"c":9,"r":13,"v":-0.2},{"c":10,"r":13,"v":-0.2},{"c":11,"r":13,"v":-0.2},{"c":12,"r":13,"v":-0.2},{"c":13,"r":13,"v":-0.2},{"c":14,"r":13,"v":-0.2},{"c":15,"r":13,"v":-0.2},{"c":16,"r":13,"v":-0.2},{"c":17,"r":13,"v":-0.2},{"c":18,"r":13,"v":-0.2},{"c":19,"r":13,"v":-0.2},{"c":20,"r":13,"v":-0.2},{"c":21,"r":13,"v":-0.2},{"c":22,"r":13,"v":-0.2},{"c":23,"r":13,"v":-0.2},{"c":24,"r":13,"v":-0.2},{"c":25,"r":13,"v":-0.2},{"c":26,"r":13,"v":-0.2},{"c":27,"r":13,"v":-0.2},{"c":28,"r":13,"v":-0.2},{"c":29,"r":13,"v":-0.2},{"c":30,"r":13,"v":-0.2},{"c":31,"r":13,"v":-0.2},{"c":32,"r":13,"v":-0.2},{"c":33,"r":13,"v":-0.2},{"c":34,"r":13,"v":-0.2},{"c":35,"r":13,"v":-0.2},{"c":36,"r":13,"v":-0.2},{"c":37,"r":13,"v":-0.2},{"c":38,"r":13,"v":-0.2},{"c":39,"r":13,"v":-0.2},{"c":40,"r":13,"v":-0.2},{"c":41,"r":13,"v":-0.2},{"c":42,"r":13,"v":0.5},{"c":43,"r":13,"v":-0.2},{"c":44,"r":13,"v":-0.2},{"c":45,"r":13,"v":-0.2},{"c":46,"r":13,"v":-0.2},{"c":47,"r":13,"v":-0.2},{"c":48,"r":13,"v":-0.2},{"c":49,"r":13,"v":-0.2},{"c":50,"r":13,"v":-0.2},{"c":51,"r":13,"v":2},{"c":52,"r":13,"v":-0.2},{"c":53,"r":13,"v":-0.2},{"c":54,"r":13,"v":-0.2},{"c":55,"r":13,"v":-0.2},{"c":56,"r":13,"v":-0.2},{"c":57,"r":13,"v":2},{"c":58,"r":13,"v":-0.2},{"c":59,"r":13,"v":-0.2},{"c":60,"r":13,"v":-0.2},{"c":61,"r":13,"v":-0.2},{"c":62,"r":13,"v":-0.2},{"c":63,"r":13,"v":-0.2},{"c":64,"r":13,"v":-0.2},{"c":65,"r":13,"v":-0.2},{"c":66,"r":13,"v":-0.2},{"c":67,"r":13,"v":-0.2},{"c":68,"r":13,"v":-0.2},{"c":69,"r":13,"v":-0.2},{"c":70,"r":13,"v":-0.2},{"c":71,"r":13,"v":-0.2},{"c":72,"r":13,"v":-0.2},{"c":73,"r":13,"v":-0.2},{"c":74,"r":13,"v":-0.2},{"c":75,"r":13,"v":-0.2},{"c":76,"r":13,"v":-0.2},{"c":77,"r":13,"v":-0.2},{"c":78,"r":13,"v":-0.2},{"c":79,"r":13,"v":0.55},{"c":80,"r":13,"v":-0.2},{"c":81,"r":13,"v":-0.2},{"c":82,"r":13,"v":-0.2},{"c":83,"r":13,"v":-0.2},{"c":84,"r":13,"v":-0.2},{"c":85,"r":13,"v":-0.2},
{"c":1,"r":14,"v":-0.12},{"c":2,"r":14,"v":-0.12},{"c":3,"r":14,"v":2},{"c":4,"r":14,"v":-0.12},{"c":5,"r":14,"v":-0.12},{"c":6,"r":14,"v":-0.12},{"c":7,"r":14,"v":-0.12},{"c":8,"r":14,"v":-0.12},{"c":9,"r":14,"v":-0.12},{"c":10,"r":14,"v":2},{"c":11,"r":14,"v":-0.12},{"c":12,"r":14,"v":-0.12},{"c":13,"r":14,"v":-0.12},{"c":14,"r":14,"v":-0.12},{"c":15,"r":14,"v":-0.12},{"c":16,"r":14,"v":-0.12},{"c":17,"r":14,"v":-0.12},{"c":18,"r":14,"v":-0.12},{"c":19,"r":14,"v":-0.12},{"c":20,"r":14,"v":-0.12},{"c":21,"r":14,"v":-0.12},{"c":22,"r":14,"v":-0.12},{"c":23,"r":14,"v":-0.12},{"c":24,"r":14,"v":-0.12},{"c":25,"r":14,"v":-0.12},{"c":26,"r":14,"v":-0.12},{"c":27,"r":14,"v":-0.12},{"c":28,"r":14,"v":-0.12},{"c":29,"r":14,"v":-0.12},{"c":30,"r":14,"v":-0.12},{"c":31,"r":14,"v":-0.12},{"c":32,"r":14,"v":-0.12},{"c":33,"r":14,"v":-0.12},{"c":34,"r":14,"v":-0.12},{"c":35,"r":14,"v":-0.12},{"c":36,"r":14,"v":-0.12},{"c":37,"r":14,"v":-0.12},{"c":38,"r":14,"v":-0.12},{"c":39,"r":14,"v":-0.12},{"c":40,"r":14,"v":-0.12},{"c":41,"r":14,"v":-0.12},{"c":42,"r":14,"v":-0.12},{"c":43,"r":14,"v":-0.12},{"c":44,"r":14,"v":-0.12},{"c":45,"r":14,"v":-0.12},{"c":46,"r":14,"v":-0.12},{"c":47,"r":14,"v":-0.12},{"c":48,"r":14,"v":-0.12},{"c":49,"r":14,"v":-0.12},{"c":50,"r":14,"v":-0.12},{"c":51,"r":14,"v":-0.12},{"c":52,"r":14,"v":-0.12},{"c":53,"r":14,"v":-0.12},{"c":54,"r":14,"v":-0.12},{"c":55,"r":14,"v":-0.12},{"c":56,"r":14,"v":-0.12},{"c":57,"r":14,"v":-0.12},{"c":58,"r":14,"v":-0.12},{"c":59,"r":14,"v":-0.12},{"c":60,"r":14,"v":-0.12},{"c":61,"r":14,"v":-0.12},{"c":62,"r":14,"v":-0.12},{"c":63,"r":14,"v":-0.12},{"c":64,"r":14,"v":-0.12},{"c":65,"r":14,"v":-0.12},{"c":66,"r":14,"v":-0.12},{"c":67,"r":14,"v":-0.12},{"c":68,"r":14,"v":-0.12},{"c":69,"r":14,"v":-0.12},{"c":70,"r":14,"v":-0.12},{"c":71,"r":14,"v":-0.12},{"c":72,"r":14,"v":-0.12},{"c":73,"r":14,"v":-0.12},{"c":74,"r":14,"v":-0.12},{"c":75,"r":14,"v":-0.12},{"c":76,"r":14,"v":-0.12},{"c":77,"r":14,"v":-0.12},{"c":78,"r":14,"v":-0.12},{"c":79,"r":14,"v":-0.12},{"c":80,"r":14,"v":-0.12},{"c":81,"r":14,"v":-0.12},{"c":82,"r":14,"v":-0.12},{"c":83,"r":14,"v":-0.12},{"c":84,"r":14,"v":-0.12},{"c":85,"r":14,"v":-0.12},
{"c":1,"r":15,"v":-0.06},{"c":2,"r":15,"v":-0.06},{"c":3,"r":15,"v":-0.06},{"c":4,"r":15,"v":-0.06},{"c":5,"r":15,"v":-0.06},{"c":6,"r":15,"v":-0.06},{"c":7,"r":15,"v":-0.06},{"c":8,"r":15,"v":-0.06},{"c":9,"r":15,"v":-0.06},{"c":10,"r":15,"v":-0.06},{"c":11,"r":15,"v":-0.06},{"c":12,"r":15,"v":-0.06},{"c":13,"r":15,"v":-0.06},{"c":14,"r":15,"v":-0.06},{"c":15,"r":15,"v":-0.06},{"c":16,"r":15,"v":-0.06},{"c":17,"r":15,"v":-0.06},{"c":18,"r":15,"v":-0.06},{"c":19,"r":15,"v":-0.06},{"c":20,"r":15,"v":-0.06},{"c":21,"r":15,"v":-0.06},{"c":22,"r":15,"v":-0.06},{"c":23,"r":15,"v":-0.06},{"c":24,"r":15,"v":-0.06},{"c":25,"r":15,"v":-0.06},{"c":26,"r":15,"v":-0.06},{"c":27,"r":15,"v":-0.06},{"c":28,"r":15,"v":-0.06},{"c":29,"r":15,"v":-0.06},{"c":30,"r":15,"v":-0.06},{"c":31,"r":15,"v":-0.06},{"c":32,"r":15,"v":-0.06},{"c":33,"r":15,"v":-0.06},{"c":34,"r":15,"v":-0.06},{"c":35,"r":15,"v":-0.06},{"c":36,"r":15,"v":-0.06},{"c":37,"r":15,"v":2},{"c":38,"r":15,"v":-0.06},{"c":39,"r":15,"v":-0.06},{"c":40,"r":15,"v":-0.06},{"c":41,"r":15,"v":-0.06},{"c":42,"r":15,"v":-0.06},{"c":43,"r":15,"v":-0.06},{"c":44,"r":15,"v":-0.06},{"c":45,"r":15,"v":-0.06},{"c":46,"r":15,"v":-0.06},{"c":47,"r":15,"v":-0.06},{"c":48,"r":15,"v":-0.06},{"c":49,"r":15,"v":-0.06},{"c":50,"r":15,"v":-0.06},{"c":51,"r":15,"v":-0.06},{"c":52,"r":15,"v":-0.06},{"c":53,"r":15,"v":-0.06},{"c":54,"r":15,"v":-0.06},{"c":55,"r":15,"v":-0.06},{"c":56,"r":15,"v":-0.06},{"c":57,"r":15,"v":-0.06},{"c":58,"r":15,"v":-0.06},{"c":59,"r":15,"v":-0.06},{"c":60,"r":15,"v":-0.06},{"c":61,"r":15,"v":-0.06},{"c":62,"r":15,"v":-0.06},{"c":63,"r":15,"v":-0.06},{"c":64,"r":15,"v":-0.06},{"c":65,"r":15,"v":-0.06},{"c":66,"r":15,"v":-0.06},{"c":67,"r":15,"v":-0.06},{"c":68,"r":15,"v":-0.06},{"c":69,"r":15,"v":-0.06},{"c":70,"r":15,"v":-0.06},{"c":71,"r":15,"v":-0.06},{"c":72,"r":15,"v":-0.06},{"c":73,"r":15,"v":-0.06},{"c":74,"r":15,"v":-0.06},{"c":75,"r":15,"v":-0.06},{"c":76,"r":15,"v":-0.06},{"c":77,"r":15,"v":-0.06},{"c":78,"r":15,"v":-0.06},{"c":79,"r":15,"v":-0.06},{"c":80,"r":15,"v":-0.06},{"c":81,"r":15,"v":-0.06},{"c":82,"r":15,"v":-0.06},{"c":83,"r":15,"v":-0.06},{"c":84,"r":15,"v":-0.06},{"c":85,"r":15,"v":-0.06},
{"c":1,"r":16,"v":-0.3},{"c":2,"r":16,"v":0.5},{"c":3,"r":16,"v":0.5},{"c":4,"r":16,"v":1.1},{"c":5,"r":16,"v":1},{"c":6,"r":16,"v":0.9},{"c":7,"r":16,"v":-1},{"c":8,"r":16,"v":-0.3},{"c":9,"r":16,"v":-0.9},{"c":10,"r":16,"v":-0.1},{"c":11,"r":16,"v":0.5},{"c":12,"r":16,"v":2},{"c":13,"r":16,"v":-0.15},{"c":14,"r":16,"v":1},{"c":15,"r":16,"v":-0.85},{"c":16,"r":16,"v":0.25},{"c":17,"r":16,"v":1.9},{"c":18,"r":16,"v":-0.85},{"c":19,"r":16,"v":-0.95},{"c":20,"r":16,"v":-0.4},{"c":21,"r":16,"v":0.6},{"c":22,"r":16,"v":1.3},{"c":23,"r":16,"v":-0.2},{"c":24,"r":16,"v":0.5},{"c":25,"r":16,"v":0.2},{"c":26,"r":16,"v":-0.1},{"c":27,"r":16,"v":0.5},{"c":28,"r":16,"v":-0.1},{"c":29,"r":16,"v":-0.6},{"c":30,"r":16,"v":1.6},{"c":31,"r":16,"v":0.95},{"c":32,"r":16,"v":-1.95},{"c":33,"r":16,"v":0.3},{"c":34,"r":16,"v":0.12},{"c":35,"r":16,"v":0.65},{"c":36,"r":16,"v":1},{"c":37,"r":16,"v":-0.2},{"c":38,"r":16,"v":-0.75},{"c":39,"r":16,"v":0.55},{"c":40,"r":16,"v":-1.2},{"c":41,"r":16,"v":-0.05},{"c":42,"r":16,"v":-1},{"c":43,"r":16,"v":0.85},{"c":44,"r":16,"v":0.75},{"c":45,"r":16,"v":0.9},{"c":46,"r":16,"v":0.9},{"c":47,"r":16,"v":-1.3},{"c":48,"r":16,"v":0},{"c":49,"r":16,"v":0.25},{"c":50,"r":16,"v":-0.2},{"c":51,"r":16,"v":-1.35},{"c":52,"r":16,"v":0.9},{"c":53,"r":16,"v":0.7},{"c":54,"r":16,"v":0.7},{"c":55,"r":16,"v":-0.05},{"c":56,"r":16,"v":0.25},{"c":57,"r":16,"v":-2},{"c":58,"r":16,"v":-0.8},{"c":59,"r":16,"v":-0.4},{"c":60,"r":16,"v":0.4},{"c":61,"r":16,"v":0.02},{"c":62,"r":16,"v":0.45},{"c":63,"r":16,"v":0.9},{"c":64,"r":16,"v":-0.1},{"c":65,"r":16,"v":0},{"c":66,"r":16,"v":-0.2},{"c":67,"r":16,"v":0.65},{"c":68,"r":16,"v":-0.55},{"c":69,"r":16,"v":0.2},{"c":70,"r":16,"v":0.5},{"c":71,"r":16,"v":1},{"c":72,"r":16,"v":-0.2},{"c":73,"r":16,"v":-0.2},{"c":74,"r":16,"v":1.2},{"c":75,"r":16,"v":-2},{"c":76,"r":16,"v":-1.1},{"c":77,"r":16,"v":0.2},{"c":78,"r":16,"v":-0.6},{"c":79,"r":16,"v":-2},{"c":80,"r":16,"v":0.2},{"c":81,"r":16,"v":0.2},{"c":82,"r":16,"v":0.05},{"c":83,"r":16,"v":0.2},{"c":84,"r":16,"v":-2},{"c":85,"r":16,"v":-1},
{"c":1,"r":17,"v":1.2},{"c":2,"r":17,"v":1.05},{"c":3,"r":17,"v":0.75},{"c":4,"r":17,"v":0.3},{"c":5,"r":17,"v":2},{"c":6,"r":17,"v":2},{"c":7,"r":17,"v":-1},{"c":8,"r":17,"v":0.6},{"c":9,"r":17,"v":0.85},{"c":10,"r":17,"v":0.45},{"c":11,"r":17,"v":-0.1},{"c":12,"r":17,"v":0.5},{"c":13,"r":17,"v":0.02},{"c":14,"r":17,"v":-0.05},{"c":15,"r":17,"v":1.8},{"c":16,"r":17,"v":1.4},{"c":17,"r":17,"v":-0.5},{"c":18,"r":17,"v":-0.2},{"c":19,"r":17,"v":-0.7},{"c":20,"r":17,"v":-0.7},{"c":21,"r":17,"v":0.1},{"c":22,"r":17,"v":-0.05},{"c":23,"r":17,"v":-0.01},{"c":24,"r":17,"v":0.75},{"c":25,"r":17,"v":-0.2},{"c":26,"r":17,"v":-1},{"c":27,"r":17,"v":-0.25},{"c":28,"r":17,"v":-1.1},{"c":29,"r":17,"v":-0.2},{"c":30,"r":17,"v":-0.5},{"c":31,"r":17,"v":-0.8},{"c":32,"r":17,"v":0.8},{"c":33,"r":17,"v":0.3},{"c":34,"r":17,"v":0.25},{"c":35,"r":17,"v":0.7},{"c":36,"r":17,"v":0.05},{"c":37,"r":17,"v":-0.7},{"c":38,"r":17,"v":-1.2},{"c":39,"r":17,"v":-0.2},{"c":40,"r":17,"v":-1.6},{"c":41,"r":17,"v":-0.05},{"c":42,"r":17,"v":2},{"c":43,"r":17,"v":0.25},{"c":44,"r":17,"v":-0.5},{"c":45,"r":17,"v":0.3},{"c":46,"r":17,"v":-0.05},{"c":47,"r":17,"v":0.3},{"c":48,"r":17,"v":0.45},{"c":49,"r":17,"v":-0.2},{"c":50,"r":17,"v":0.85},{"c":51,"r":17,"v":-0.2},{"c":52,"r":17,"v":-0.2},{"c":53,"r":17,"v":-0.3},{"c":54,"r":17,"v":0.9},{"c":55,"r":17,"v":0.9},{"c":56,"r":17,"v":-0.05},{"c":57,"r":17,"v":-0.95},{"c":58,"r":17,"v":-0.85},{"c":59,"r":17,"v":-0.1},{"c":60,"r":17,"v":-0.25},{"c":61,"r":17,"v":-0.8},{"c":62,"r":17,"v":-1.15},{"c":63,"r":17,"v":0.5},{"c":64,"r":17,"v":1.1},{"c":65,"r":17,"v":0.35},{"c":66,"r":17,"v":-1.2},{"c":67,"r":17,"v":0.35},{"c":68,"r":17,"v":-0.1},{"c":69,"r":17,"v":-0.55},{"c":70,"r":17,"v":0.4},{"c":71,"r":17,"v":0},{"c":72,"r":17,"v":-0.5},{"c":73,"r":17,"v":-0.02},{"c":74,"r":17,"v":0.25},{"c":75,"r":17,"v":-2},{"c":76,"r":17,"v":-1.6},{"c":77,"r":17,"v":-0.5},{"c":78,"r":17,"v":0.85},{"c":79,"r":17,"v":0.25},{"c":80,"r":17,"v":2},{"c":81,"r":17,"v":-0.75},{"c":82,"r":17,"v":-0.2},{"c":83,"r":17,"v":-1.85},{"c":84,"r":17,"v":-2},{"c":85,"r":17,"v":-1.9},
{"c":1,"r":18,"v":-0.75},{"c":2,"r":18,"v":2},{"c":3,"r":18,"v":-0.8},{"c":4,"r":18,"v":-0.8},{"c":5,"r":18,"v":2},{"c":6,"r":18,"v":1.8},{"c":7,"r":18,"v":-0.75},{"c":8,"r":18,"v":-0.75},{"c":9,"r":18,"v":2},{"c":10,"r":18,"v":-0.1},{"c":11,"r":18,"v":-0.75},{"c":12,"r":18,"v":1},{"c":13,"r":18,"v":-0.75},{"c":14,"r":18,"v":0.12},{"c":15,"r":18,"v":-0.03},{"c":16,"r":18,"v":1},{"c":17,"r":18,"v":0.25},{"c":18,"r":18,"v":2},{"c":19,"r":18,"v":-0.1},{"c":20,"r":18,"v":0.65},{"c":21,"r":18,"v":1.4},{"c":22,"r":18,"v":-0.75},{"c":23,"r":18,"v":2},{"c":24,"r":18,"v":1.7},{"c":25,"r":18,"v":0.2},{"c":26,"r":18,"v":-0.75},{"c":27,"r":18,"v":-0.75},{"c":28,"r":18,"v":1.4},{"c":29,"r":18,"v":0.8},{"c":30,"r":18,"v":-0.45},{"c":31,"r":18,"v":0.4},{"c":32,"r":18,"v":-0.75},{"c":33,"r":18,"v":-0.75},{"c":34,"r":18,"v":1.8},{"c":35,"r":18,"v":2},{"c":36,"r":18,"v":1},{"c":37,"r":18,"v":0.15},{"c":38,"r":18,"v":-0.75},{"c":39,"r":18,"v":-0.75},{"c":40,"r":18,"v":-0.75},{"c":41,"r":18,"v":-0.8},{"c":42,"r":18,"v":2},{"c":43,"r":18,"v":-0.25},{"c":44,"r":18,"v":-0.75},{"c":45,"r":18,"v":-0.75},{"c":46,"r":18,"v":-0.35},{"c":47,"r":18,"v":-0.75},{"c":48,"r":18,"v":-0.35},{"c":49,"r":18,"v":-0.7},{"c":50,"r":18,"v":-0.75},{"c":51,"r":18,"v":-0.75},{"c":52,"r":18,"v":-0.75},{"c":53,"r":18,"v":-0.75},{"c":54,"r":18,"v":-0.4},{"c":55,"r":18,"v":-0.65},{"c":56,"r":18,"v":-0.7},{"c":57,"r":18,"v":-0.7},{"c":58,"r":18,"v":-0.7},{"c":59,"r":18,"v":-0.7},{"c":60,"r":18,"v":-0.7},{"c":61,"r":18,"v":-0.7},{"c":62,"r":18,"v":0.25},{"c":63,"r":18,"v":-0.5},{"c":64,"r":18,"v":-0.7},{"c":65,"r":18,"v":-0.3},{"c":66,"r":18,"v":-0.7},{"c":67,"r":18,"v":-0.7},{"c":68,"r":18,"v":-0.7},{"c":69,"r":18,"v":1},{"c":70,"r":18,"v":1.6},{"c":71,"r":18,"v":-0.75},{"c":72,"r":18,"v":-0.75},{"c":73,"r":18,"v":-0.35},{"c":74,"r":18,"v":0},{"c":75,"r":18,"v":-0.75},{"c":76,"r":18,"v":-0.75},{"c":77,"r":18,"v":-0.75},{"c":78,"r":18,"v":-0.2},{"c":79,"r":18,"v":-0.75},{"c":80,"r":18,"v":1.8},{"c":81,"r":18,"v":0.65},{"c":82,"r":18,"v":-0.7},{"c":83,"r":18,"v":0.08},{"c":84,"r":18,"v":-0.7},{"c":85,"r":18,"v":-0.7},
{"c":1,"r":19,"v":-0.55},{"c":2,"r":19,"v":-0.65},{"c":3,"r":19,"v":-0.9},{"c":4,"r":19,"v":1.4},{"c":5,"r":19,"v":0.6},{"c":6,"r":19,"v":0.7},{"c":7,"r":19,"v":0.9},{"c":8,"r":19,"v":0.1},{"c":9,"r":19,"v":0.45},{"c":10,"r":19,"v":-0.45},{"c":11,"r":19,"v":-0.8},{"c":12,"r":19,"v":-0.65},{"c":13,"r":19,"v":1.6},{"c":14,"r":19,"v":0.15},{"c":15,"r":19,"v":0.3},{"c":16,"r":19,"v":0.3},{"c":17,"r":19,"v":0.75},{"c":18,"r":19,"v":-0.25},{"c":19,"r":19,"v":0.25},{"c":20,"r":19,"v":2},{"c":21,"r":19,"v":-0.05},{"c":22,"r":19,"v":-2},{"c":23,"r":19,"v":1.35},{"c":24,"r":19,"v":0.55},{"c":25,"r":19,"v":0.25},{"c":26,"r":19,"v":-0.05},{"c":27,"r":19,"v":-0.25},{"c":28,"r":19,"v":0.5},{"c":29,"r":19,"v":-1.5},{"c":30,"r":19,"v":-0.75},{"c":31,"r":19,"v":-0.55},{"c":32,"r":19,"v":-0.75},{"c":33,"r":19,"v":1.25},{"c":34,"r":19,"v":-1.8},{"c":35,"r":19,"v":0.2},{"c":36,"r":19,"v":1.4},{"c":37,"r":19,"v":-0.55},{"c":38,"r":19,"v":-1.1},{"c":39,"r":19,"v":1.9},{"c":40,"r":19,"v":1.6},{"c":41,"r":19,"v":-1.15},{"c":42,"r":19,"v":-0.25},{"c":43,"r":19,"v":-0.6},{"c":44,"r":19,"v":1.15},{"c":45,"r":19,"v":0.6},{"c":46,"r":19,"v":-0.4},{"c":47,"r":19,"v":-0.6},{"c":48,"r":19,"v":-0.25},{"c":49,"r":19,"v":-1},{"c":50,"r":19,"v":0.1},{"c":51,"r":19,"v":-1.25},{"c":52,"r":19,"v":-1.6},{"c":53,"r":19,"v":1.05},{"c":54,"r":19,"v":0.35},{"c":55,"r":19,"v":-0.15},{"c":56,"r":19,"v":-0.55},{"c":57,"r":19,"v":0.35},{"c":58,"r":19,"v":1.4},{"c":59,"r":19,"v":0.1},{"c":60,"r":19,"v":0},{"c":61,"r":19,"v":2},{"c":62,"r":19,"v":0.45},{"c":63,"r":19,"v":-2},{"c":64,"r":19,"v":-0.03},{"c":65,"r":19,"v":1.1},{"c":66,"r":19,"v":0.15},{"c":67,"r":19,"v":-0.9},{"c":68,"r":19,"v":0.85},{"c":69,"r":19,"v":0.6},{"c":70,"r":19,"v":0.08},{"c":71,"r":19,"v":-1.25},{"c":72,"r":19,"v":-1.4},{"c":73,"r":19,"v":0.95},{"c":74,"r":19,"v":0},{"c":75,"r":19,"v":0.4},{"c":76,"r":19,"v":-1.05},{"c":77,"r":19,"v":-2},{"c":78,"r":19,"v":0.35},{"c":79,"r":19,"v":-0.65},{"c":80,"r":19,"v":-1.4},{"c":81,"r":19,"v":1.4},{"c":82,"r":19,"v":-0.7},{"c":83,"r":19,"v":-0.45},{"c":84,"r":19,"v":2},{"c":85,"r":19,"v":-0.7},
{"c":1,"r":20,"v":1.4},{"c":2,"r":20,"v":0},{"c":3,"r":20,"v":0.08},{"c":4,"r":20,"v":-0.4},{"c":5,"r":20,"v":-0.65},{"c":6,"r":20,"v":1.45},{"c":7,"r":20,"v":1.45},{"c":8,"r":20,"v":0.25},{"c":9,"r":20,"v":1.85},{"c":10,"r":20,"v":0.8},{"c":11,"r":20,"v":1},{"c":12,"r":20,"v":-0.55},{"c":13,"r":20,"v":-0.6},{"c":14,"r":20,"v":0.25},{"c":15,"r":20,"v":2},{"c":16,"r":20,"v":0.6},{"c":17,"r":20,"v":-1.95},{"c":18,"r":20,"v":1.4},{"c":19,"r":20,"v":0.45},{"c":20,"r":20,"v":0.5},{"c":21,"r":20,"v":-1.15},{"c":22,"r":20,"v":-2},{"c":23,"r":20,"v":0.55},{"c":24,"r":20,"v":0.3},{"c":25,"r":20,"v":0.2},{"c":26,"r":20,"v":0.2},{"c":27,"r":20,"v":-1},{"c":28,"r":20,"v":-1},{"c":29,"r":20,"v":1.85},{"c":30,"r":20,"v":0},{"c":31,"r":20,"v":-0.75},{"c":32,"r":20,"v":-1.8},{"c":33,"r":20,"v":-0.55},{"c":34,"r":20,"v":0.25},{"c":35,"r":20,"v":1.9},{"c":36,"r":20,"v":1.3},{"c":37,"r":20,"v":2},{"c":38,"r":20,"v":-0.7},{"c":39,"r":20,"v":-0.4},{"c":40,"r":20,"v":0.85},{"c":41,"r":20,"v":0.65},{"c":42,"r":20,"v":-0.2},{"c":43,"r":20,"v":0},{"c":44,"r":20,"v":-1},{"c":45,"r":20,"v":0.1},{"c":46,"r":20,"v":-0.3},{"c":47,"r":20,"v":-0.8},{"c":48,"r":20,"v":-0.05},{"c":49,"r":20,"v":1.45},{"c":50,"r":20,"v":-1.05},{"c":51,"r":20,"v":-1.25},{"c":52,"r":20,"v":0.55},{"c":53,"r":20,"v":-0.25},{"c":54,"r":20,"v":1.85},{"c":55,"r":20,"v":1},{"c":56,"r":20,"v":0.75},{"c":57,"r":20,"v":-2},{"c":58,"r":20,"v":-0.08},{"c":59,"r":20,"v":0.05},{"c":60,"r":20,"v":-0.4},{"c":61,"r":20,"v":-0.03},{"c":62,"r":20,"v":-0.95},{"c":63,"r":20,"v":-1.7},{"c":64,"r":20,"v":0.8},{"c":65,"r":20,"v":0},{"c":66,"r":20,"v":-1.4},{"c":67,"r":20,"v":0.35},{"c":68,"r":20,"v":-0.25},{"c":69,"r":20,"v":0.6},{"c":70,"r":20,"v":-0.9},{"c":71,"r":20,"v":-0.65},{"c":72,"r":20,"v":1.1},{"c":73,"r":20,"v":-0.1},{"c":74,"r":20,"v":-0.85},{"c":75,"r":20,"v":-1.2},{"c":76,"r":20,"v":0.9},{"c":77,"r":20,"v":0.3},{"c":78,"r":20,"v":-0.7},{"c":79,"r":20,"v":-0.75},{"c":80,"r":20,"v":-0.03},{"c":81,"r":20,"v":-0.6},{"c":82,"r":20,"v":-0.25},{"c":83,"r":20,"v":-2},{"c":84,"r":20,"v":-0.45},{"c":85,"r":20,"v":-1.35},
{"c":1,"r":21,"v":-0.65},{"c":2,"r":21,"v":0.05},{"c":3,"r":21,"v":-0.2},{"c":4,"r":21,"v":0.02},{"c":5,"r":21,"v":1.9},{"c":6,"r":21,"v":-0.85},{"c":7,"r":21,"v":1.05},{"c":8,"r":21,"v":-0.85},{"c":9,"r":21,"v":2},{"c":10,"r":21,"v":0.95},{"c":11,"r":21,"v":0.75},{"c":12,"r":21,"v":-0.1},{"c":13,"r":21,"v":-0.85},{"c":14,"r":21,"v":0.35},{"c":15,"r":21,"v":0.6},{"c":16,"r":21,"v":-0.85},{"c":17,"r":21,"v":1.35},{"c":18,"r":21,"v":-0.9},{"c":19,"r":21,"v":2},{"c":20,"r":21,"v":-0.85},{"c":21,"r":21,"v":1.5},{"c":22,"r":21,"v":2},{"c":23,"r":21,"v":0.45},{"c":24,"r":21,"v":-0.45},{"c":25,"r":21,"v":1},{"c":26,"r":21,"v":-0.85},{"c":27,"r":21,"v":0.5},{"c":28,"r":21,"v":0.85},{"c":29,"r":21,"v":1.85},{"c":30,"r":21,"v":0.15},{"c":31,"r":21,"v":1.35},{"c":32,"r":21,"v":0.55},{"c":33,"r":21,"v":-0.05},{"c":34,"r":21,"v":0.7},{"c":35,"r":21,"v":1.35},{"c":36,"r":21,"v":0.02},{"c":37,"r":21,"v":0.55},{"c":38,"r":21,"v":-0.5},{"c":39,"r":21,"v":-0.35},{"c":40,"r":21,"v":0.02},{"c":41,"r":21,"v":-0.9},{"c":42,"r":21,"v":-0.95},{"c":43,"r":21,"v":0.3},{"c":44,"r":21,"v":-0.85},{"c":45,"r":21,"v":-0.85},{"c":46,"r":21,"v":-0.85},{"c":47,"r":21,"v":-0.85},{"c":48,"r":21,"v":-0.8},{"c":49,"r":21,"v":-0.8},{"c":50,"r":21,"v":-0.8},{"c":51,"r":21,"v":1.85},{"c":52,"r":21,"v":-0.9},{"c":53,"r":21,"v":-0.9},{"c":54,"r":21,"v":0.4},{"c":55,"r":21,"v":-0.2},{"c":56,"r":21,"v":-0.85},{"c":57,"r":21,"v":2},{"c":58,"r":21,"v":-0.15},{"c":59,"r":21,"v":-0.2},{"c":60,"r":21,"v":0.15},{"c":61,"r":21,"v":-0.5},{"c":62,"r":21,"v":-0.85},{"c":63,"r":21,"v":-0.85},{"c":64,"r":21,"v":-0.1},{"c":65,"r":21,"v":-0.45},{"c":66,"r":21,"v":0.3},{"c":67,"r":21,"v":-0.85},{"c":68,"r":21,"v":-0.85},{"c":69,"r":21,"v":-0.8},{"c":70,"r":21,"v":-0.7},{"c":71,"r":21,"v":-0.85},{"c":72,"r":21,"v":-0.85},{"c":73,"r":21,"v":-0.9},{"c":74,"r":21,"v":-0.5},{"c":75,"r":21,"v":-0.2},{"c":76,"r":21,"v":-0.85},{"c":77,"r":21,"v":-0.85},{"c":78,"r":21,"v":-0.85},{"c":79,"r":21,"v":0.65},{"c":80,"r":21,"v":-0.9},{"c":81,"r":21,"v":-0.9},{"c":82,"r":21,"v":-0.9},{"c":83,"r":21,"v":0.15},{"c":84,"r":21,"v":1.1},{"c":85,"r":21,"v":-0.2},
{"c":1,"r":22,"v":1.45},{"c":2,"r":22,"v":1.05},{"c":3,"r":22,"v":-1.15},{"c":4,"r":22,"v":0.3},{"c":5,"r":22,"v":0.3},{"c":6,"r":22,"v":0},{"c":7,"r":22,"v":2},{"c":8,"r":22,"v":0.7},{"c":9,"r":22,"v":0.45},{"c":10,"r":22,"v":0.15},{"c":11,"r":22,"v":1.15},{"c":12,"r":22,"v":-1.15},{"c":13,"r":22,"v":1.8},{"c":14,"r":22,"v":-0.5},{"c":15,"r":22,"v":0},{"c":16,"r":22,"v":0.6},{"c":17,"r":22,"v":-0.75},{"c":18,"r":22,"v":1.4},{"c":19,"r":22,"v":-0.5},{"c":20,"r":22,"v":-0.75},{"c":21,"r":22,"v":-0.75},{"c":22,"r":22,"v":1.2},{"c":23,"r":22,"v":-1.15},{"c":24,"r":22,"v":0.45},{"c":25,"r":22,"v":1.7},{"c":26,"r":22,"v":1.25},{"c":27,"r":22,"v":1.8},{"c":28,"r":22,"v":2},{"c":29,"r":22,"v":-0.25},{"c":30,"r":22,"v":1.5},{"c":31,"r":22,"v":1.9},{"c":32,"r":22,"v":2},{"c":33,"r":22,"v":0.55},{"c":34,"r":22,"v":1.55},{"c":35,"r":22,"v":1.55},{"c":36,"r":22,"v":-0.75},{"c":37,"r":22,"v":0.35},{"c":38,"r":22,"v":-1.15},{"c":39,"r":22,"v":0.02},{"c":40,"r":22,"v":-1.15},{"c":41,"r":22,"v":-0.95},{"c":42,"r":22,"v":-1.15},{"c":43,"r":22,"v":-0.6},{"c":44,"r":22,"v":-0.9},{"c":45,"r":22,"v":-0.2},{"c":46,"r":22,"v":0.35},{"c":47,"r":22,"v":-0.45},{"c":48,"r":22,"v":0.08},{"c":49,"r":22,"v":-1},{"c":50,"r":22,"v":0.8},{"c":51,"r":22,"v":-1.2},{"c":52,"r":22,"v":0.75},{"c":53,"r":22,"v":-1.15},{"c":54,"r":22,"v":-1.15},{"c":55,"r":22,"v":-1.2},{"c":56,"r":22,"v":-0.75},{"c":57,"r":22,"v":-1.2},{"c":58,"r":22,"v":0.35},{"c":59,"r":22,"v":-1.2},{"c":60,"r":22,"v":-1.2},{"c":61,"r":22,"v":-0.3},{"c":62,"r":22,"v":-1.2},{"c":63,"r":22,"v":0.05},{"c":64,"r":22,"v":-0.45},{"c":65,"r":22,"v":0.6},{"c":66,"r":22,"v":-0.7},{"c":67,"r":22,"v":-0.05},{"c":68,"r":22,"v":0.12},{"c":69,"r":22,"v":-1.2},{"c":70,"r":22,"v":-1.2},{"c":71,"r":22,"v":0},{"c":72,"r":22,"v":-1.2},{"c":73,"r":22,"v":0.8},{"c":74,"r":22,"v":-1},{"c":75,"r":22,"v":-1.2},{"c":76,"r":22,"v":1.5},{"c":77,"r":22,"v":0.3},{"c":78,"r":22,"v":-1.2},{"c":79,"r":22,"v":-1.2},{"c":80,"r":22,"v":1.1},{"c":81,"r":22,"v":-1.05},{"c":82,"r":22,"v":-0.4},{"c":83,"r":22,"v":-0.2},{"c":84,"r":22,"v":0.65},{"c":85,"r":22,"v":-0.75}
]},
"resolve":{"scale":{"x":"independent","y":"independent","color":"independent","stroke":"independent"}},
"layer":[
{"data":{"name":"cells"},"transform":[{"lookup":"r","from":{"data":{"name":"rows"},"key":"r","fields":["cell"]}}],"mark":{"type":"rect"},"encoding":{
"x":{"field":"c","type":"ordinal","axis":null,"scale":{"type":"band","range":[196,1272],"paddingInner":0,"paddingOuter":0}},
"y":{"field":"cell","type":"nominal","scale":{"type":"band","domain":["NK cells activated","Plasma cells","T cells CD8","Neutrophils","Regulatory T cells (Tregs)","Dendritic cells resting","Macrophages M2","Mast cells resting","Monocytes","T cells CD4 naive","T cells gamma delta","Mast cells activated","B cells naive","T cells CD4 memory activated","Macrophages M0","Dendritic cells activated","T cells follicular helper","Eosinophils","T cells CD4 memory resting","Macrophages M1","NK cells resting","B cells memory"],"range":[324,1947],"paddingInner":0,"paddingOuter":0},"axis":{"orient":"right","offset":-2620,"title":null,"domain":false,"ticks":false,"labelPadding":26,"labelFontSize":47,"labelLimit":0,"labelColor":"#000","labelOffset":5}},
"color":{"field":"v","type":"quantitative","scale":{"domain":[-2,-1.5,-1,-0.5,0,0.5,1,1.5,2],"range":["#000080","#1a20ff","#6a7ef5","#b4c2f8","#ffffff","#f2b6d8","#de6aa0","#d0406f","#c30b12"]},"legend":{"orient":"none","legendX":1899,"legendY":222,"direction":"vertical","gradientLength":613,"gradientThickness":42,"values":[-2,-1,0,1,2],"labelExpr":"toString(datum.value)","title":null,"labelFontSize":50,"labelOverlap":false,"labelColor":"#000","gradientStrokeColor":"#222","gradientStrokeWidth":2,"labelOffset":16,"encoding":{"labels":{"update":{"baseline":{"value":"middle"},"dy":{"value":2}}}}}}}},
{"data":{"values":[{"track":"Tissue type","group":"Pso-L","from":0,"to":85}]},"mark":{"type":"rect"},"encoding":{
"x":{"field":"from","type":"quantitative","axis":null,"scale":{"domain":[0,85],"range":[196,1272]}},"x2":{"field":"to"},
"y":{"field":"track","type":"nominal","scale":{"type":"band","domain":["Tissue type","Immune phenotype"],"range":[196,308],"paddingInner":0.069,"paddingOuter":0},"axis":{"orient":"right","offset":-2620,"title":null,"domain":false,"ticks":false,"labelPadding":26,"labelFontSize":47,"labelLimit":0,"labelColor":"#000","labelOffset":13}},
"color":{"field":"group","type":"nominal","scale":{"domain":["Pso-L"],"range":["#e20b0e"]},"legend":{"orient":"none","legendX":2081,"legendY":388,"title":"Tissue type","titleFontSize":46,"titleFontWeight":"normal","titleColor":"#000","titlePadding":16,"titleLimit":1000,"labelLimit":1000,"labelFontSize":46,"labelColor":"#000","symbolType":"square","symbolSize":3844,"symbolStrokeColor":"#111","symbolStrokeWidth":3,"labelOffset":16,"rowPadding":2}}}},
{"data":{"values":[{"track":"Immune phenotype","group":"Lesional phenotype","from":0,"to":37},{"track":"Immune phenotype","group":"Nonlesional phenotype","from":37,"to":85}]},"mark":{"type":"rect"},"encoding":{
"x":{"field":"from","type":"quantitative","axis":null,"scale":{"domain":[0,85],"range":[196,1272]}},"x2":{"field":"to"},
"y":{"field":"track","type":"nominal","scale":{"type":"band","domain":["Tissue type","Immune phenotype"],"range":[196,308],"paddingInner":0.069,"paddingOuter":0},"axis":null},
"color":{"field":"group","type":"nominal","scale":{"domain":["Nonlesional phenotype","Lesional phenotype"],"range":["#de6f0a","#193b3a"]},"legend":{"orient":"none","legendX":2081,"legendY":561,"title":"Immune phenotype","titleFontSize":46,"titleFontWeight":"normal","titleColor":"#000","titlePadding":16,"titleLimit":1000,"labelLimit":1000,"labelFontSize":46,"labelColor":"#000","symbolType":"square","symbolSize":3844,"symbolStrokeColor":"#111","symbolStrokeWidth":3,"labelOffset":16,"rowPadding":2}}}},
{"data":{"values":[{"cluster":"Nonlesional enriched","c0":37,"c1":85,"r0":-0.12,"r1":8},{"cluster":"Lesional enriched","c0":-0.63,"c1":37,"r0":15,"r1":22}]},"mark":{"type":"rect","fillOpacity":0,"strokeWidth":9.5},"encoding":{
"x":{"field":"c0","type":"quantitative","axis":null,"scale":{"domain":[0,85],"range":[196,1272]}},"x2":{"field":"c1"},
"y":{"field":"r0","type":"quantitative","axis":null,"scale":{"domain":[0,22],"range":[324,1947]}},"y2":{"field":"r1"},
"stroke":{"field":"cluster","type":"nominal","legend":null,"scale":{"domain":["Nonlesional enriched","Lesional enriched"],"range":["#2a80ff","#ff0000"]}}}},
{"data":{"values":[{"d0":114,"d1":1,"y0":0.43,"y1":0.43},{"d0":113,"d1":1,"y0":1.44,"y1":1.44},{"d0":113,"d1":1,"y0":2.43,"y1":2.43},{"d0":113,"d1":113,"y0":1.44,"y1":2.43},{"d0":114,"d1":114,"y0":0.43,"y1":1.93},{"d0":141,"d1":114,"y0":1.18,"y1":1.18},{"d0":141,"d1":141,"y0":1.18,"y1":4.2},{"d0":140,"d1":1,"y0":3.43,"y1":3.43},{"d0":112,"d1":1,"y0":4.44,"y1":4.44},{"d0":112,"d1":1,"y0":5.43,"y1":5.43},{"d0":112,"d1":112,"y0":4.44,"y1":5.43},{"d0":139.5,"d1":112,"y0":4.93,"y1":4.93},{"d0":139.5,"d1":139.5,"y0":3.43,"y1":4.93},{"d0":175,"d1":141,"y0":2.7,"y1":2.7},{"d0":175,"d1":175,"y0":2.7,"y1":11.02},{"d0":175,"d1":164,"y0":11.02,"y1":11.02},{"d0":131,"d1":1,"y0":6.44,"y1":6.44},{"d0":131,"d1":1,"y0":7.54,"y1":7.54},{"d0":131,"d1":131,"y0":6.44,"y1":7.54},{"d0":164,"d1":131,"y0":7.22,"y1":7.22},{"d0":164,"d1":164,"y0":7.22,"y1":16.6},{"d0":164,"d1":153,"y0":16.6,"y1":16.6},{"d0":153,"d1":153,"y0":12.3,"y1":21},{"d0":153,"d1":139,"y0":12.3,"y1":12.3},{"d0":139,"d1":139,"y0":9.24,"y1":15.4},{"d0":139,"d1":100,"y0":9.24,"y1":9.24},{"d0":100,"d1":100,"y0":8.48,"y1":10},{"d0":100,"d1":1,"y0":8.48,"y1":8.48},{"d0":100,"d1":91,"y0":10,"y1":10},{"d0":91,"d1":91,"y0":9.49,"y1":10.5},{"d0":91,"d1":1,"y0":9.49,"y1":9.49},{"d0":91,"d1":1,"y0":10.5,"y1":10.5},{"d0":139,"d1":136,"y0":15.4,"y1":15.4},{"d0":136,"d1":136,"y0":12.47,"y1":18.2},{"d0":136,"d1":121,"y0":12.47,"y1":12.47},{"d0":121,"d1":121,"y0":11.5,"y1":13.4},{"d0":121,"d1":1,"y0":11.5,"y1":11.5},{"d0":121,"d1":105,"y0":13.4,"y1":13.4},{"d0":105,"d1":105,"y0":12.49,"y1":14.36},{"d0":105,"d1":1,"y0":12.49,"y1":12.49},{"d0":105,"d1":78,"y0":14.36,"y1":14.36},{"d0":78,"d1":78,"y0":13.5,"y1":15.2},{"d0":78,"d1":1,"y0":13.5,"y1":13.5},{"d0":78,"d1":52,"y0":15.2,"y1":15.2},{"d0":52,"d1":52,"y0":14.5,"y1":16},{"d0":52,"d1":1,"y0":14.5,"y1":14.5},{"d0":52,"d1":44,"y0":16,"y1":16},{"d0":44,"d1":44,"y0":15.5,"y1":16.5},{"d0":44,"d1":1,"y0":15.5,"y1":15.5},{"d0":44,"d1":1,"y0":16.5,"y1":16.5},{"d0":136,"d1":123,"y0":18.2,"y1":18.2},{"d0":123,"d1":123,"y0":17.47,"y1":18.98},{"d0":123,"d1":1,"y0":17.47,"y1":17.47},{"d0":123,"d1":105,"y0":18.98,"y1":18.98},{"d0":105,"d1":105,"y0":18.48,"y1":19.5},{"d0":105,"d1":1,"y0":18.48,"y1":18.48},{"d0":105,"d1":1,"y0":19.5,"y1":19.5},{"d0":153,"d1":143,"y0":21,"y1":21},{"d0":143,"d1":143,"y0":20.5,"y1":21.47},{"d0":143,"d1":1,"y0":20.5,"y1":20.5},{"d0":143,"d1":1,"y0":21.47,"y1":21.47}]},"mark":{"type":"rule","strokeWidth":5.5,"color":"#000","strokeCap":"square"},"encoding":{
"x":{"field":"d0","type":"quantitative","axis":null,"scale":{"domain":[0,196],"range":[196,0]}},"x2":{"field":"d1"},
"y":{"field":"y0","type":"quantitative","axis":null,"scale":{"domain":[0,22],"range":[324,1947]}},"y2":{"field":"y1"}}},
{"encoding":{"x":{"field":"px","type":"quantitative","axis":null,"scale":{"domain":[0,3892],"range":[0,3892]}},"y":{"field":"py","type":"quantitative","axis":null,"scale":{"domain":[0,2000],"range":[0,2000]}}},
"layer":[
{"data":{"values":[{"box":"A","px":8,"py":49,"px2":82,"py2":123},{"box":"B","px":2778,"py":49,"px2":2852,"py2":123},{"box":"legend","px":2049,"py":196.5,"px2":2658,"py2":794}]},"mark":{"type":"rect","fillOpacity":0,"stroke":"#222","strokeWidth":3},"encoding":{"x2":{"field":"px2"},"y2":{"field":"py2"}}},
{"data":{"values":[{"set":"nonlesional phenotype vs lesional phenotype","px":3154,"py":747}]},"mark":{"type":"point","filled":true,"opacity":1,"shape":"circle","size":369664,"fill":"#fe6190"}},
{"data":{"values":[{"set":"Pso-L vs Pso-NL","px":3577,"py":749}]},"mark":{"type":"point","filled":true,"opacity":1,"shape":"circle","size":374544,"fill":"#637bff"}},
{"data":{"values":[{"set":"overlap","px":3364.5,"py":748.5}]},"mark":{"type":"point","filled":true,"opacity":1,"size":194481,"fill":"#e04590","shape":"M0,-1A1.379,1.379,0,0,1,0,1A1.379,1.379,0,0,1,0,-1Z"}},
{"data":{"values":[{"part":"Upregulated","px":3366,"py":1595}]},"mark":{"type":"arc","radius":305,"theta":-1.5708,"theta2":1.5708,"fill":"#de6f0a"}},
{"data":{"values":[{"part":"Downregulated","px":3366,"py":1595}]},"mark":{"type":"arc","radius":305,"theta":1.5708,"theta2":4.7124,"fill":"#193b3a"}},
{"data":{"values":[{"link":"arrow","px":3365,"py":794,"px2":3365,"py2":1262}]},"mark":{"type":"rule","strokeWidth":4,"color":"#000"},"encoding":{"x2":{"field":"px2"},"y2":{"field":"py2"}}},
{"data":{"values":[{"link":"arrowhead","px":3365,"py":1261.5}]},"mark":{"type":"point","filled":true,"opacity":1,"size":1369,"fill":"#000","shape":"M0,1L-0.81,-1L0,-0.55L0.81,-1Z"}},
{"data":{"values":[{"t":"Lesional skin microenvironmental landscapes","px":112,"py":86},{"t":"Method flowchart","px":2883,"py":86}]},"mark":{"type":"text","align":"left","baseline":"middle","dy":4,"fontSize":50.5,"color":"#000"},"encoding":{"text":{"field":"t"}}},
{"data":{"values":[{"t":"Cohorts","px":2081,"py":249},{"t":"GSE30999","px":2084,"py":310}]},"mark":{"type":"text","align":"left","baseline":"middle","dy":4,"fontSize":46,"color":"#000"},"encoding":{"text":{"field":"t"}}},
{"data":{"values":[{"t":"Random forest","px":3033,"py":1127},{"t":"classification algorithm","px":3038,"py":1195}]},"mark":{"type":"text","align":"center","baseline":"middle","dy":3,"fontSize":51,"color":"#000"},"encoding":{"text":{"field":"t"}}},
{"data":{"values":[{"t":"A","px":46,"py":87},{"t":"B","px":2816,"py":86}]},"mark":{"type":"text","align":"center","baseline":"middle","dy":3,"fontSize":46,"fontWeight":"bold","color":"#000"},"encoding":{"text":{"field":"t"}}},
{"data":{"values":[{"t":"DEGs:","px":3133,"py":597},{"t":"nonlesional","px":3133,"py":655},{"t":"phenotype","px":3127,"py":711},{"t":"vs lesional","px":3133,"py":767},{"t":"phenotype","px":3133,"py":822},{"t":"960","px":3133,"py":876},{"t":"DEGs:","px":3626,"py":665},{"t":"Pso-L","px":3626,"py":719},{"t":"vs Pso-NL","px":3626,"py":774},{"t":"907","px":3626,"py":827},{"t":"182","px":3365,"py":730},{"t":"Upregulated","px":3359,"py":1412},{"t":"nonlesional","px":3365,"py":1471},{"t":"gene signatures: 8","px":3368,"py":1530},{"t":"Downregulated","px":3343,"py":1652},{"t":"lesional","px":3374,"py":1711},{"t":"gene signatures: 25","px":3368,"py":1770}]},"mark":{"type":"text","align":"center","baseline":"middle","dy":3,"fontSize":46,"color":"#fff"},"encoding":{"text":{"field":"t"}}}
]}
]}
